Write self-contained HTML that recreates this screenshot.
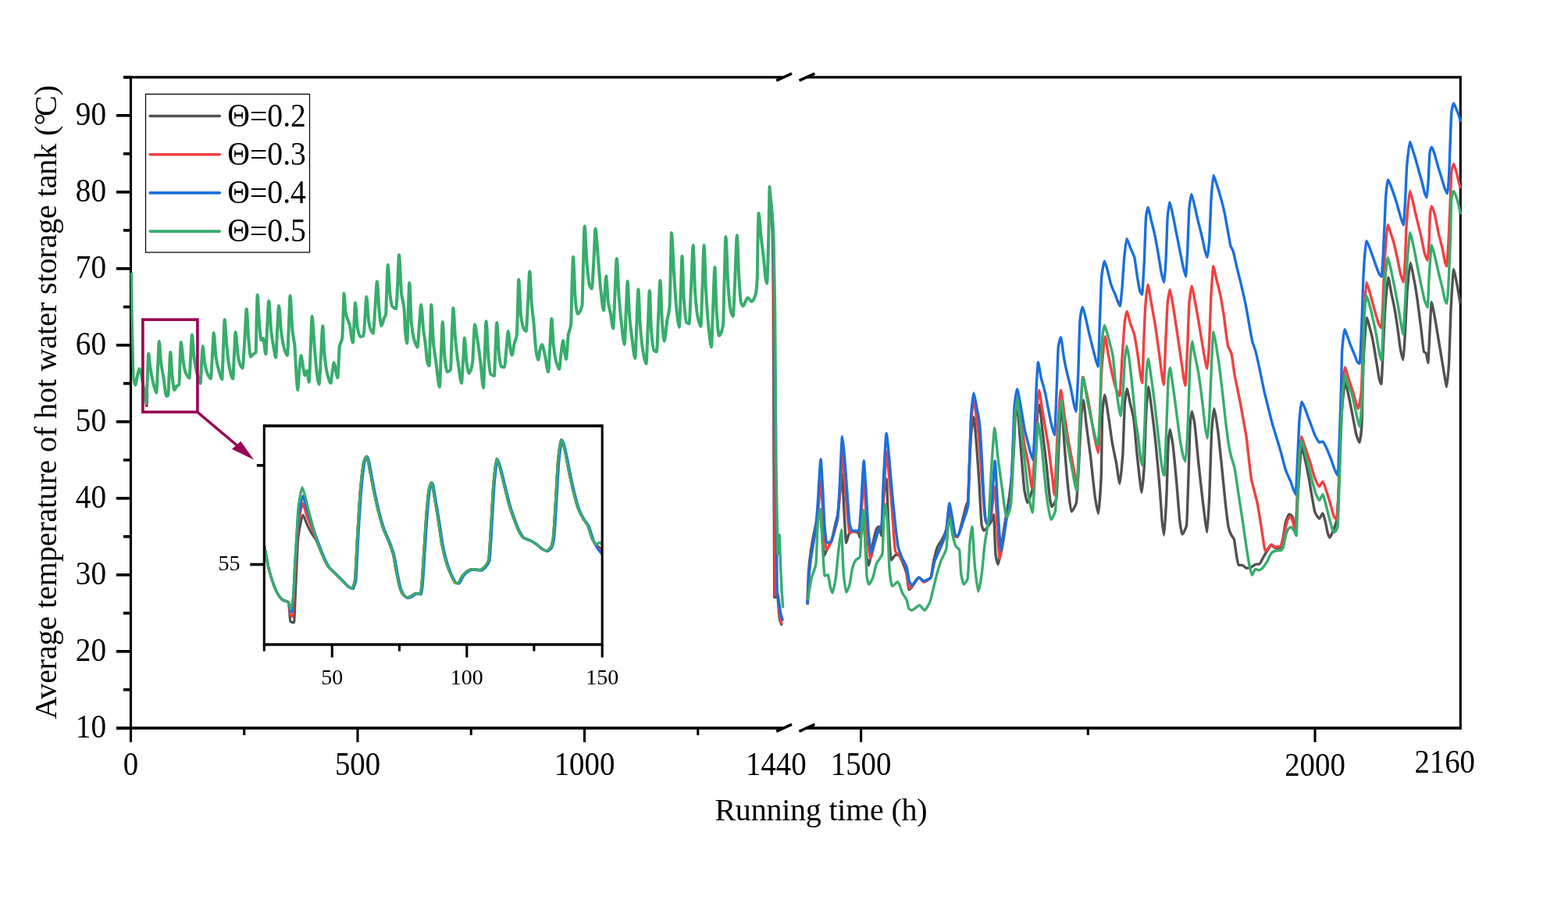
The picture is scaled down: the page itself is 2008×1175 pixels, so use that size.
<!DOCTYPE html>
<html lang="en"><head><meta charset="utf-8"><title>Average temperature of hot water storage tank</title>
<style>html,body{margin:0;padding:0;background:#fff}body{width:2008px;height:1175px;overflow:hidden}svg{display:block}text{font-family:"Liberation Serif","Noto Serif CJK SC",serif;fill:#000}</style></head><body>
<svg width="2008" height="1175" viewBox="0 0 2008 1175">
<rect width="2008" height="1175" fill="#fff"/>
<g stroke="#000" stroke-width="3.1" fill="none" stroke-linecap="butt">
<path d="M167.5 97.35000000000001 V933.8000000000001"/>
<path d="M1870.3 97.35000000000001 V933.8000000000001"/>
<path d="M167.50 931.95 V949.95"/>
<path d="M458.00 931.95 V949.95"/>
<path d="M748.50 931.95 V949.95"/>
<path d="M312.75 931.95 V940.95"/>
<path d="M603.25 931.95 V940.95"/>
<path d="M893.75 931.95 V940.95"/>
<path d="M1102.60 931.95 V949.95"/>
<path d="M1684.00 931.95 V949.95"/>
<path d="M1393.30 931.95 V940.95"/>
</g>
<g stroke="#000" stroke-width="3.7" fill="none" stroke-linecap="butt">
<path d="M158.0 98.95 H1004" stroke-width="3.3"/><path d="M1033.5 98.95 H1870.3" stroke-width="3.3"/>
<path d="M149.0 931.95 H1004"/><path d="M1033.5 931.95 H1870.3"/>
<path d="M994.2 103.15 L1014 94.15" stroke-width="3.4"/>
<path d="M1023.5 103.15 L1043.4 94.15" stroke-width="3.4"/>
<path d="M994.2 936.15 L1014 927.15" stroke-width="3.4"/>
<path d="M1023.5 936.15 L1043.4 927.15" stroke-width="3.4"/>
<path d="M149.0 931.80 H167.5"/>
<path d="M149.0 833.80 H167.5"/>
<path d="M149.0 735.80 H167.5"/>
<path d="M149.0 637.80 H167.5"/>
<path d="M149.0 539.80 H167.5"/>
<path d="M149.0 441.80 H167.5"/>
<path d="M149.0 343.80 H167.5"/>
<path d="M149.0 245.80 H167.5"/>
<path d="M149.0 147.80 H167.5"/>
<path d="M158.0 882.80 H167.5"/>
<path d="M158.0 784.80 H167.5"/>
<path d="M158.0 686.80 H167.5"/>
<path d="M158.0 588.80 H167.5"/>
<path d="M158.0 490.80 H167.5"/>
<path d="M158.0 392.80 H167.5"/>
<path d="M158.0 294.80 H167.5"/>
<path d="M158.0 196.80 H167.5"/>
<path d="M158.0 98.80 H167.5"/>
</g>
<g id="curves">
<polyline points="987.2,262.6 989.3,296.6 990.0,339.1 990.3,400.0 991.0,600.0 991.8,764.4 996.0,764.4 998.2,792.0 1000.8,799.1" fill="none" stroke="#515151" stroke-width="3.4" stroke-linejoin="round" stroke-linecap="round"/>
<polyline points="987.7,262.6 989.9,296.6 990.6,339.1 991.0,400.0 992.0,600.0 992.9,761.5 996.5,762.3 998.9,792.0 1000.8,797.0" fill="none" stroke="#F14040" stroke-width="3.4" stroke-linejoin="round" stroke-linecap="round"/>
<polyline points="988.0,262.6 990.3,296.6 991.1,339.1 992.0,400.0 993.5,600.0 995.2,757.0 997.5,770.0 999.7,785.0 1002.1,793.4" fill="none" stroke="#1A6FDF" stroke-width="3.4" stroke-linejoin="round" stroke-linecap="round"/>
<polyline points="985.5,238.7 988.1,262.6 990.6,296.6 991.5,339.1 992.6,400.0 994.0,600.0 996.0,709.4 998.2,684.8 999.7,727.0 1001.1,755.7 1002.6,776.7" fill="none" stroke="#37AD6B" stroke-width="3.4" stroke-linejoin="round" stroke-linecap="round"/>
<polyline points="186.3,505.0 187.2,519.8 188.3,519.8 188.9,505.0" fill="none" stroke="#515151" stroke-width="2.6" stroke-linejoin="round" stroke-linecap="round"/>
<polyline points="186.3,505.0 187.3,517.5 188.2,517.5 188.9,505.0" fill="none" stroke="#F14040" stroke-width="2.6" stroke-linejoin="round" stroke-linecap="round"/>
<polyline points="186.3,505.0 187.3,516.0 188.2,516.0 188.9,505.0" fill="none" stroke="#1A6FDF" stroke-width="2.6" stroke-linejoin="round" stroke-linecap="round"/>
<path d="M168.5 349.0C168.7 365.2 168.9 393.2 169.0 403.1C169.4 426.2 169.9 440.2 170.2 454.1C170.5 464.1 170.8 482.8 171.1 484.8C171.7 490.0 172.6 493.3 173.3 493.3C174.1 493.3 175.3 483.8 176.2 479.7" fill="none" stroke="#37AD6B" stroke-width="3.3" stroke-linejoin="round" stroke-linecap="butt" />
<path d="M173.3 493.3C174.1 489.2 175.3 483.1 176.2 479.7C176.8 477.0 177.7 472.0 178.4 472.0C179.0 472.0 179.8 474.4 180.4 476.3C181.2 478.6 182.2 487.3 183.0 491.6C183.7 495.9 184.8 500.9 185.5 505.2C186.0 508.1 186.7 515.4 187.2 515.4C187.6 515.4 188.2 496.6 188.6 488.2C189.1 477.8 189.8 452.4 190.3 452.4C190.8 452.4 191.5 464.1 192.0 467.8C192.6 472.1 193.4 476.5 194.0 479.7C195.1 484.9 196.4 491.6 197.4 495.0C198.3 497.9 199.5 502.7 200.3 502.7C200.8 502.7 201.5 480.5 202.0 471.2C202.6 460.9 203.3 437.1 203.9 437.1C204.5 437.1 205.3 457.5 206.0 462.7C207.0 471.2 208.3 476.8 209.4 483.1C210.5 490.0 212.0 506.9 213.1 506.9C213.8 506.9 214.7 506.6 215.3 506.1C215.7 505.7 216.3 487.5 216.7 479.7C217.1 470.9 217.8 450.7 218.2 450.7C218.9 450.7 219.8 473.7 220.4 479.7C221.3 487.5 222.5 499.3 223.3 499.3C224.2 499.3 225.5 494.9 226.4 494.1C227.3 493.4 228.5 493.6 229.4 492.4C229.8 492.1 230.2 469.6 230.5 462.7C230.9 453.4 231.4 438.0 231.8 438.0C232.7 438.0 234.0 458.9 234.9 464.4C235.7 469.0 236.7 474.4 237.4 476.3C239.0 480.0 241.0 483.9 242.6 483.9C243.1 483.9 243.7 462.4 244.3 454.1C244.8 445.9 245.4 428.6 246.0 428.6C246.7 428.6 247.7 451.9 248.5 457.6C249.8 467.0 251.5 475.0 252.8 479.7C253.9 484.0 255.5 490.7 256.7 490.7C257.1 490.7 257.8 470.0 258.2 462.7C258.6 456.1 259.2 443.1 259.6 443.1C260.3 443.1 261.4 460.1 262.1 464.4C263.1 470.0 264.5 475.6 265.5 478.0C266.8 480.9 268.5 484.8 269.8 484.8C270.5 484.8 271.3 464.2 272.0 454.1C272.5 446.4 273.2 426.1 273.7 426.1C274.6 426.1 275.7 451.9 276.6 457.6C277.9 465.8 279.6 472.0 280.9 476.3C281.9 479.7 283.2 485.6 284.3 485.6C284.8 485.6 285.4 457.1 286.0 445.6C286.5 434.2 287.2 409.0 287.7 409.0C288.4 409.0 289.4 432.8 290.2 440.5C291.2 450.9 292.6 464.5 293.6 469.5C295.0 476.2 296.8 484.8 298.2 484.8C298.7 484.8 299.4 463.1 299.9 454.1C300.4 445.1 301.1 424.9 301.6 424.9C302.5 424.9 303.8 448.4 304.7 454.1C305.4 458.9 306.5 464.3 307.2 466.1C308.3 468.4 309.6 471.2 310.6 471.2C311.4 471.2 312.4 448.4 313.2 437.1C314.0 425.9 315.0 395.4 315.7 395.4C316.5 395.4 317.5 425.1 318.3 433.7C319.1 442.3 320.1 456.7 320.9 456.7C321.9 456.7 323.2 454.2 324.3 453.3C325.3 452.4 326.6 452.6 327.7 450.7C327.9 450.3 328.3 420.7 328.5 411.6C328.9 398.8 329.3 377.6 329.7 377.6C330.4 377.6 331.2 403.9 331.9 411.6C332.7 420.6 333.7 435.4 334.5 435.4C335.2 435.4 336.3 432.9 337.0 432.9C338.0 432.9 339.4 453.3 340.4 453.3C340.9 453.3 341.6 429.4 342.1 420.1C342.7 408.9 343.6 385.2 344.2 385.2C345.1 385.2 346.3 415.6 347.2 423.5C348.3 432.3 349.6 440.1 350.6 445.6C351.4 449.8 352.4 457.6 353.2 457.6C353.8 457.6 354.6 430.3 355.2 420.1C355.8 410.7 356.5 391.2 357.1 391.2C358.0 391.2 359.1 416.9 360.0 423.5C361.3 433.3 363.0 443.5 364.3 447.3C365.4 450.7 366.9 455.0 368.0 455.0C368.5 455.0 369.2 431.0 369.7 420.1C370.3 408.1 371.0 378.4 371.6 378.4C372.4 378.4 373.6 415.4 374.5 423.5C375.4 432.1 376.6 434.7 377.5 443.9C378.1 450.1 379.0 473.3 379.6 481.4C380.1 488.2 380.8 499.3 381.3 499.3C381.9 499.3 382.7 480.8 383.3 474.6C384.0 467.8 384.9 455.0 385.5 455.0C386.3 455.0 387.3 465.7 388.1 469.5C388.9 473.2 389.9 480.5 390.6 480.5C391.4 480.5 392.4 474.6 393.2 474.6C394.0 474.6 395.0 489.0 395.7 489.0C396.4 489.0 397.2 458.9 397.8 445.6C398.4 433.6 399.1 404.8 399.7 404.8C400.3 404.8 401.1 421.5 401.7 429.1C402.5 438.8 403.5 456.1 404.3 463.2C405.5 475.0 407.2 492.1 408.5 492.1C409.3 492.1 410.3 466.7 411.1 454.7C411.7 444.2 412.6 417.2 413.3 417.2C413.9 417.2 414.7 444.7 415.3 451.3C416.3 462.2 417.7 472.5 418.7 476.8C420.2 482.9 422.1 490.4 423.5 490.4C424.1 490.4 424.9 480.6 425.5 476.8C426.2 472.7 427.1 464.0 427.7 464.0C428.4 464.0 429.2 470.8 429.8 473.4C430.6 476.7 431.6 483.6 432.3 483.6C433.1 483.6 434.1 446.8 434.9 442.8C435.9 437.4 437.3 438.8 438.3 432.6C438.7 430.4 439.1 412.9 439.5 403.6C439.8 395.7 440.2 375.5 440.5 375.5C441.1 375.5 441.9 397.0 442.6 400.2C444.1 408.3 446.1 409.6 447.7 415.5C448.9 420.5 450.6 438.5 451.9 438.5C452.4 438.5 453.1 420.7 453.6 412.1C454.0 405.3 454.6 387.4 455.0 387.4C455.8 387.4 457.0 416.5 457.9 420.6C458.9 425.6 460.3 430.9 461.3 430.9C462.6 430.9 464.3 430.6 465.5 430.0C466.1 429.7 467.0 411.8 467.6 403.6C468.1 396.7 468.8 379.8 469.3 379.8C470.2 379.8 471.4 406.9 472.3 412.1C473.1 416.5 474.1 420.7 474.9 422.3C475.8 424.2 476.9 426.6 477.8 426.6C478.6 426.6 479.6 405.0 480.3 395.1C481.1 385.2 482.1 360.2 482.9 360.2C483.8 360.2 485.0 394.3 486.0 401.9C486.7 408.2 487.7 417.2 488.5 417.2C489.5 417.2 490.9 409.5 491.9 407.0C492.5 405.5 493.3 405.3 494.0 402.8C494.4 401.1 494.9 379.1 495.3 369.6C495.7 360.0 496.3 338.9 496.7 338.9C497.5 338.9 498.7 371.5 499.6 378.1C500.3 383.9 501.4 390.7 502.1 391.7C503.7 393.7 505.7 395.1 507.2 395.1C507.8 395.1 508.7 372.4 509.3 361.1C509.8 351.7 510.5 326.2 511.0 326.2C511.9 326.2 513.1 366.6 514.0 374.7C515.1 383.6 516.4 385.4 517.5 395.1C518.0 400.0 518.6 420.7 519.1 425.7C519.8 431.8 520.6 439.4 521.2 439.4C521.7 439.4 522.4 407.9 522.9 395.1C523.3 384.8 523.8 361.9 524.3 361.9C525.0 361.9 526.0 404.5 526.8 412.1C527.8 422.4 529.2 430.6 530.2 434.3C531.5 438.8 533.2 444.5 534.5 444.5C535.2 444.5 536.3 424.3 537.0 415.5C537.7 407.9 538.6 390.0 539.2 390.0C540.1 390.0 541.3 413.1 542.1 420.6C542.9 427.2 543.9 433.1 544.7 439.4C545.4 445.7 546.5 460.4 547.2 463.2C547.9 465.6 548.8 468.3 549.5 468.3C549.9 468.3 550.5 441.6 551.0 429.1C551.4 418.1 551.9 390.0 552.3 390.0C553.1 390.0 554.1 429.3 554.9 437.7C555.9 448.8 557.3 455.8 558.3 463.2C559.7 473.2 561.5 495.5 562.9 495.5C563.5 495.5 564.2 466.7 564.8 454.7C565.4 441.7 566.2 412.1 566.8 412.1C567.6 412.1 568.6 449.6 569.4 456.4C570.4 465.4 571.7 476.0 572.8 476.0C574.0 476.0 575.7 475.1 577.0 473.4C577.5 472.7 578.2 440.8 578.7 429.1C579.2 417.4 579.9 394.3 580.4 394.3C581.2 394.3 582.2 424.1 583.0 432.6C584.3 446.6 586.0 459.5 587.2 468.3C588.4 476.1 589.9 490.4 591.0 490.4C591.6 490.4 592.5 469.7 593.2 459.8C593.7 452.2 594.4 432.6 594.9 432.6C595.7 432.6 596.7 457.9 597.5 463.2C598.4 469.5 599.6 477.7 600.5 477.7C601.9 477.7 603.7 472.7 605.1 464.9C605.5 462.6 606.1 444.5 606.5 437.7C606.9 429.9 607.5 415.5 608.0 415.5C608.9 415.5 610.1 426.8 611.1 432.6C612.3 440.5 614.0 453.0 615.3 463.2C616.4 472.1 617.9 496.4 619.1 496.4C619.6 496.4 620.3 467.5 620.8 454.7C621.3 442.0 622.0 411.3 622.5 411.3C623.4 411.3 624.6 448.6 625.5 458.1C626.3 466.1 627.3 477.7 628.1 478.5C629.5 480.1 631.4 481.1 632.9 481.1C633.4 481.1 634.0 456.3 634.5 446.2C635.1 435.9 635.7 413.0 636.3 413.0C637.1 413.0 638.3 447.7 639.1 454.7C639.9 460.9 640.9 468.8 641.7 469.1C643.0 469.7 644.7 470.0 646.0 470.0C646.7 470.0 647.7 453.6 648.5 446.2C649.2 439.8 650.1 424.0 650.7 424.0C651.5 424.0 652.5 440.2 653.3 444.5C654.0 448.4 654.9 454.7 655.7 454.7C656.6 454.7 657.8 443.0 658.7 439.4C659.6 435.7 660.9 435.4 661.8 429.1C662.1 426.7 662.6 405.8 663.0 395.1C663.3 384.4 663.8 357.7 664.2 357.7C665.1 357.7 666.3 398.9 667.2 405.3C668.3 412.5 669.6 418.8 670.6 420.6C671.6 422.3 672.8 424.0 673.7 424.0C674.4 424.0 675.4 398.5 676.1 386.6C676.8 375.6 677.6 347.4 678.3 347.4C679.1 347.4 680.1 381.3 680.9 390.0C681.6 398.7 682.6 404.6 683.4 412.1C684.4 422.2 685.8 445.7 686.8 451.3C687.6 455.4 688.6 460.6 689.4 460.6C690.0 460.6 690.8 450.2 691.4 447.9C692.2 445.0 693.2 441.1 694.0 441.1C695.1 441.1 696.7 449.9 697.9 454.7C699.1 459.9 700.9 476.0 702.1 476.0C702.8 476.0 703.7 453.4 704.3 442.8C705.0 433.0 705.8 407.9 706.4 407.9C707.1 407.9 708.2 436.2 708.9 442.8C710.0 451.4 711.3 459.6 712.3 463.2C713.5 467.2 715.0 472.6 716.1 472.6C716.9 472.6 717.9 456.6 718.6 451.3C719.4 445.9 720.4 436.0 721.2 436.0C721.7 436.0 722.4 446.6 722.9 449.6C723.6 453.5 724.4 459.8 725.1 459.8C725.9 459.8 726.9 433.9 727.7 429.1C728.7 422.9 730.0 423.7 731.1 415.5C731.5 412.2 732.0 381.8 732.4 369.6C732.9 355.9 733.5 328.7 734.0 328.7C734.8 328.7 735.9 373.9 736.7 382.1C737.5 390.9 738.7 401.7 739.6 401.7C741.4 401.7 743.7 398.4 745.5 390.6C745.9 388.9 746.5 353.1 746.9 339.6C747.4 322.6 748.1 289.4 748.6 289.4C749.5 289.4 750.6 326.4 751.5 336.2C752.5 347.6 753.9 362.6 754.9 365.1C755.8 367.2 756.9 369.4 757.8 369.4C758.6 369.4 759.7 344.3 760.5 331.1C761.1 321.1 761.9 292.8 762.5 292.8C763.6 292.8 764.9 319.2 766.0 331.1C767.0 342.9 768.3 363.0 769.4 371.9C770.5 381.7 772.0 397.4 773.1 397.4C773.5 397.4 774.1 379.5 774.5 373.6C775.0 366.3 775.7 353.2 776.2 353.2C776.9 353.2 778.0 379.9 778.7 385.5C779.7 393.0 781.1 397.0 782.1 402.6C783.0 407.5 784.3 420.4 785.2 420.4C785.9 420.4 786.9 387.5 787.6 373.6C788.2 360.7 789.1 331.1 789.8 331.1C790.6 331.1 791.6 364.9 792.3 375.3C793.4 389.2 794.7 403.9 795.7 412.8C796.9 423.0 798.5 440.9 799.7 440.9C800.3 440.9 801.1 411.3 801.7 399.1C802.3 387.0 803.1 360.0 803.7 360.0C804.4 360.0 805.3 394.2 806.0 402.6C807.0 415.4 808.3 425.4 809.4 433.2C810.5 442.1 812.1 458.7 813.3 458.7C813.9 458.7 814.7 429.4 815.3 416.2C815.9 402.9 816.7 370.2 817.4 370.2C818.0 370.2 818.9 403.9 819.6 412.8C820.6 426.5 822.0 440.8 823.0 446.8C824.4 455.0 826.2 465.5 827.6 465.5C828.2 465.5 829.1 430.8 829.8 416.2C830.4 402.7 831.2 371.9 831.8 371.9C832.5 371.9 833.4 415.2 834.0 423.0C835.1 435.0 836.4 447.6 837.5 448.5C838.5 449.5 839.8 450.2 840.9 450.2C841.6 450.2 842.6 414.3 843.4 399.1C844.0 387.0 844.8 359.1 845.5 359.1C846.2 359.1 847.2 403.3 848.0 412.8C848.8 422.9 849.9 436.6 850.7 436.6C851.8 436.6 853.3 416.4 854.5 409.4C855.4 403.6 856.6 402.3 857.5 392.3C857.9 388.5 858.4 362.2 858.7 348.1C859.1 334.0 859.6 297.9 859.9 297.9C860.8 297.9 862.1 334.2 863.0 348.1C864.0 363.5 865.4 386.5 866.4 395.7C867.4 405.1 868.8 418.7 869.8 418.7C870.4 418.7 871.2 388.6 871.8 373.6C872.3 361.2 873.0 327.7 873.5 327.7C874.2 327.7 875.1 373.1 875.7 382.1C876.8 396.1 878.1 411.8 879.1 412.8C880.2 413.7 881.5 414.5 882.5 414.5C883.3 414.5 884.3 380.2 885.1 365.1C885.9 350.1 886.9 314.0 887.7 314.0C888.4 314.0 889.4 365.1 890.2 375.3C891.2 389.0 892.6 401.1 893.6 406.0C894.7 411.3 896.2 417.9 897.4 417.9C898.0 417.9 898.9 381.3 899.6 365.1C900.2 350.1 901.0 314.0 901.6 314.0C902.3 314.0 903.2 356.4 903.8 368.5C904.9 387.1 906.2 406.2 907.2 416.2C908.4 427.2 909.9 444.3 911.0 444.3C911.6 444.3 912.5 405.9 913.2 390.6C913.9 375.4 914.7 342.1 915.4 342.1C916.0 342.1 916.8 386.5 917.5 395.7C918.5 411.1 919.8 429.8 920.9 429.8C922.4 429.8 924.4 425.0 926.0 416.2C926.5 413.2 927.1 373.5 927.7 356.6C928.2 339.7 928.9 303.0 929.4 303.0C930.3 303.0 931.5 352.3 932.4 365.1C933.3 377.1 934.5 391.9 935.3 395.7C936.3 400.3 937.7 405.1 938.7 405.1C939.5 405.1 940.5 372.1 941.3 356.6C942.0 341.1 943.1 301.3 943.8 301.3C944.6 301.3 945.6 344.4 946.4 356.2C947.1 368.0 948.2 384.2 948.9 386.8C949.7 389.4 950.7 391.9 951.5 391.9C953.3 391.9 955.7 380.9 957.5 380.9C959.0 380.9 961.0 386.0 962.5 386.0C964.1 386.0 966.1 381.9 967.7 376.6C968.3 374.5 969.1 367.8 969.7 356.2C970.0 351.3 970.3 315.8 970.5 305.1C970.9 292.3 971.3 272.8 971.6 272.8C972.4 272.8 973.6 293.7 974.5 301.7C975.5 311.1 976.9 321.2 977.9 330.6C978.6 337.7 979.7 351.9 980.4 356.2C980.9 359.0 981.6 363.0 982.1 363.0C982.6 363.0 983.3 338.6 983.8 322.1C984.3 305.7 985.0 263.7 985.5 238.7" fill="none" stroke="#37AD6B" stroke-width="4.0" stroke-linejoin="round" stroke-linecap="butt" />
<path d="M1033.8 773.5C1034.2 765.3 1035.1 737.0 1035.4 732.5C1036.0 724.2 1037.7 710.1 1038.3 706.0C1039.2 699.6 1041.8 684.8 1042.7 680.5C1043.5 676.7 1045.9 666.4 1046.7 663.9C1047.5 661.4 1049.9 654.0 1050.7 654.0C1051.1 654.0 1052.4 678.4 1052.9 683.8C1053.4 689.9 1054.8 711.5 1055.3 711.5C1055.9 711.5 1057.6 706.1 1058.2 704.9C1059.5 702.1 1063.5 696.2 1064.8 692.7C1065.7 690.3 1068.4 676.5 1069.3 672.8C1069.9 670.0 1071.9 663.2 1072.6 659.5C1073.2 655.8 1075.2 634.4 1075.9 628.5C1076.4 623.9 1078.0 606.4 1078.5 606.4C1079.0 606.4 1080.5 646.7 1081.0 655.1C1081.5 664.2 1083.1 694.9 1083.6 694.9C1084.3 694.9 1086.3 684.7 1087.0 683.8C1087.8 682.7 1090.5 680.5 1091.4 680.5C1092.9 680.5 1097.6 681.1 1099.1 681.6C1099.6 681.8 1100.9 688.3 1101.3 688.3C1101.8 688.3 1103.1 678.7 1103.6 677.2C1104.1 675.4 1105.7 670.6 1106.2 670.6C1106.8 670.6 1108.5 704.2 1109.1 708.2C1109.8 712.8 1111.7 723.7 1112.4 723.7C1113.5 723.7 1116.8 699.9 1117.9 694.9C1118.8 690.9 1121.5 678.6 1122.4 677.2C1123.0 676.2 1125.0 673.9 1125.7 673.9C1126.4 673.9 1128.3 686.0 1129.0 686.0C1129.5 686.0 1130.8 644.3 1131.2 639.6C1132.0 631.1 1134.4 613.0 1135.2 613.0C1135.7 613.0 1137.3 663.8 1137.9 672.8C1138.5 684.0 1140.5 717.0 1141.2 717.0C1142.3 717.0 1145.6 710.4 1146.7 710.4C1147.6 710.4 1150.2 710.4 1151.1 710.4C1152.0 710.4 1154.7 717.2 1155.6 719.2C1156.7 721.8 1160.0 730.1 1161.1 734.7C1161.7 737.1 1163.4 754.6 1164.0 754.6C1164.7 754.6 1167.0 752.1 1167.7 751.3C1169.5 749.5 1174.8 739.2 1176.6 739.2C1177.9 739.2 1181.9 744.7 1183.2 744.7C1185.0 744.7 1190.3 741.4 1192.1 739.2C1192.7 738.3 1194.7 722.3 1195.4 719.2C1196.5 714.2 1199.8 701.8 1200.9 699.3C1202.0 696.9 1205.4 692.6 1206.5 690.5C1207.6 688.4 1210.9 681.1 1212.0 677.2C1212.7 674.6 1215.0 655.1 1215.8 655.1C1216.5 655.1 1218.9 665.1 1219.7 668.4C1220.4 671.1 1222.4 685.6 1223.0 686.0C1223.7 686.5 1225.7 687.2 1226.4 687.2C1227.5 687.2 1230.8 672.2 1231.9 668.4C1233.2 663.7 1237.2 645.6 1238.5 644.0C1238.7 643.8 1239.1 643.6 1239.2 643.4C1239.8 642.7 1241.3 597.0 1241.8 587.2C1242.2 580.4 1243.2 560.3 1243.6 556.6C1244.3 549.7 1246.2 533.6 1246.9 533.6C1248.2 533.6 1252.0 589.9 1253.3 607.6C1254.1 618.3 1256.4 667.8 1257.1 671.5C1257.6 674.0 1259.2 679.1 1259.7 679.1C1261.5 679.1 1266.8 671.9 1268.6 668.9C1269.4 667.6 1271.7 658.7 1272.4 658.7C1273.0 658.7 1274.5 706.2 1275.0 709.8C1275.6 714.1 1277.4 722.5 1278.1 722.5C1279.7 722.5 1284.8 681.6 1286.5 671.5C1287.8 663.8 1291.6 642.9 1292.9 633.2C1293.9 625.5 1297.0 596.3 1298.0 582.1C1298.5 575.1 1300.0 533.3 1300.5 531.1C1301.0 528.8 1302.6 524.7 1303.1 524.7C1303.8 524.7 1306.1 560.5 1306.9 569.4C1307.9 581.2 1311.0 622.1 1312.0 628.1C1312.8 632.5 1315.1 643.4 1315.8 643.4C1317.1 643.4 1320.9 631.6 1322.2 625.5C1323.0 621.9 1325.3 593.4 1326.0 582.1C1326.6 574.6 1328.1 535.2 1328.6 531.1C1329.1 527.0 1330.7 518.3 1331.2 518.3C1331.9 518.3 1334.2 544.9 1335.0 551.5C1336.0 560.3 1339.1 585.5 1340.1 594.9C1340.9 601.9 1343.2 627.5 1343.9 633.2C1344.4 636.9 1346.0 648.5 1346.5 648.5C1347.8 648.5 1351.6 642.6 1352.9 638.3C1353.4 636.5 1354.9 592.8 1355.4 582.1C1355.9 571.4 1357.5 533.8 1358.0 531.1C1358.4 528.9 1359.6 524.7 1360.0 524.7C1360.6 524.7 1362.5 561.4 1363.1 569.4C1364.1 582.6 1367.2 619.3 1368.2 628.1C1368.9 634.7 1371.2 654.9 1372.0 654.9C1373.3 654.9 1377.1 647.8 1378.4 643.4C1379.2 640.7 1381.5 595.8 1382.2 582.1C1382.7 573.0 1384.3 536.6 1384.8 531.1C1385.3 525.5 1386.8 511.9 1387.3 511.9C1388.1 511.9 1390.4 537.8 1391.2 543.8C1392.2 551.9 1395.2 573.9 1396.3 582.1C1397.5 592.4 1401.4 630.3 1402.6 638.3C1403.4 643.1 1405.7 657.4 1406.5 657.4C1407.2 657.4 1409.5 626.0 1410.3 607.6C1410.6 601.5 1411.3 535.2 1411.6 531.1C1412.2 521.1 1414.0 505.5 1414.6 505.5C1415.6 505.5 1418.3 525.4 1419.2 531.1C1420.3 537.4 1423.3 560.8 1424.3 566.8C1425.4 572.8 1428.4 586.8 1429.5 592.3C1430.4 597.3 1433.1 619.1 1434.0 619.1C1434.8 619.1 1437.1 591.8 1437.9 580.4C1438.4 572.8 1439.9 522.5 1440.4 516.6C1440.9 510.7 1442.5 497.4 1443.0 497.4C1443.7 497.4 1446.0 510.7 1446.8 514.0C1447.8 518.5 1450.9 530.4 1451.9 537.0C1452.7 542.0 1455.0 570.2 1455.7 577.9C1456.5 585.5 1458.8 607.8 1459.6 613.6C1460.1 617.5 1461.6 630.2 1462.1 630.2C1462.7 630.2 1464.6 607.6 1465.2 598.3C1465.7 590.5 1467.2 538.0 1467.7 529.4C1468.3 519.8 1470.0 494.9 1470.5 494.9C1471.4 494.9 1474.0 517.7 1474.9 524.2C1475.9 531.9 1479.0 557.9 1480.0 567.6C1481.0 577.5 1484.1 611.2 1485.1 623.8C1485.8 632.0 1487.8 663.9 1488.4 669.8C1488.9 673.8 1490.3 685.1 1490.7 685.1C1491.4 685.1 1493.4 646.0 1494.0 631.5C1494.4 622.6 1495.7 572.8 1496.1 567.6C1496.5 561.9 1497.9 549.8 1498.4 549.8C1499.0 549.8 1501.0 563.1 1501.7 567.6C1502.7 574.6 1505.8 607.5 1506.8 618.7C1507.6 627.1 1509.9 658.4 1510.6 664.7C1511.2 669.6 1513.1 683.8 1513.7 683.8C1514.9 683.8 1518.4 677.1 1519.6 672.3C1520.1 670.2 1521.6 620.5 1522.1 605.9C1522.5 594.3 1523.8 546.7 1524.2 542.1C1524.6 537.0 1526.0 526.8 1526.5 526.8C1527.1 526.8 1529.1 538.0 1529.8 542.1C1530.8 548.4 1533.9 583.5 1534.9 593.2C1535.9 602.9 1539.0 630.5 1540.0 639.1C1540.8 645.6 1543.1 664.8 1543.8 669.8C1544.2 672.4 1545.5 681.3 1545.9 681.3C1546.5 681.3 1548.3 644.5 1548.9 631.5C1549.4 620.6 1551.0 562.5 1551.5 554.9C1552.1 545.0 1554.1 523.0 1554.8 523.0C1555.7 523.0 1558.3 541.3 1559.1 547.2C1560.2 554.2 1563.2 583.5 1564.2 593.2C1565.3 602.9 1568.3 635.2 1569.3 644.2C1570.1 651.0 1572.4 671.8 1573.2 674.9C1573.9 677.9 1576.2 683.6 1577.0 685.1C1577.7 686.4 1579.7 688.5 1580.3 690.2C1580.9 691.7 1582.8 707.1 1583.4 710.6C1583.9 713.5 1585.4 723.4 1585.9 723.4C1587.0 723.4 1590.0 723.4 1591.0 723.4C1592.1 723.4 1595.1 727.2 1596.2 727.2C1597.4 727.2 1601.3 726.3 1602.5 725.9C1603.8 725.5 1607.6 722.1 1608.9 722.1C1609.7 722.1 1612.0 722.1 1612.8 722.1C1613.8 722.1 1616.8 714.9 1617.9 713.2C1618.6 711.9 1620.9 707.9 1621.7 706.8C1623.0 704.8 1627.0 698.0 1628.3 698.0C1629.3 698.0 1632.2 701.3 1633.2 701.3C1634.5 701.3 1638.5 701.3 1639.8 701.3C1640.5 701.3 1642.5 691.2 1643.2 688.0C1643.8 684.8 1645.8 670.3 1646.5 668.1C1647.4 665.1 1650.0 658.1 1650.9 658.1C1651.8 658.1 1654.4 660.3 1655.3 661.5C1656.0 662.4 1658.0 679.2 1658.6 679.2C1659.3 679.2 1661.3 643.7 1662.0 634.9C1662.9 622.0 1665.9 570.7 1666.8 570.7C1667.6 570.7 1670.0 582.8 1670.8 586.2C1671.9 590.9 1675.2 606.8 1676.3 612.8C1677.2 617.5 1679.9 634.5 1680.8 639.3C1681.4 642.9 1683.4 654.4 1684.1 655.9C1685.2 658.5 1688.5 663.7 1689.6 663.7C1690.5 663.7 1693.2 657.0 1694.0 657.0C1694.7 657.0 1696.7 665.5 1697.4 668.1C1698.0 670.7 1700.0 681.8 1700.7 683.6C1701.1 684.8 1702.5 688.0 1702.9 688.0C1703.8 688.0 1706.4 681.3 1707.3 679.2C1708.2 677.0 1710.9 670.6 1711.8 665.9C1712.2 663.5 1713.5 643.3 1714.0 634.9C1714.4 626.4 1715.7 578.2 1716.2 568.5C1716.8 554.0 1718.8 520.3 1719.5 513.2C1720.1 506.9 1721.9 489.7 1722.5 489.7C1723.2 489.7 1725.4 499.2 1726.1 502.1C1727.5 507.4 1731.4 528.7 1732.8 535.3C1733.7 539.7 1736.3 554.6 1737.2 557.5C1738.0 559.8 1740.2 566.3 1741.0 566.3C1741.5 566.3 1743.3 553.4 1743.8 546.4C1744.2 541.4 1745.5 476.1 1745.9 467.2C1746.7 448.3 1749.3 406.4 1750.2 406.4C1750.8 406.4 1752.7 414.4 1753.4 416.7C1754.3 420.0 1757.1 430.9 1758.0 435.4C1759.0 439.9 1761.8 457.9 1762.7 463.5C1763.5 468.0 1765.7 483.5 1766.5 485.9C1767.0 487.5 1768.4 491.6 1768.9 491.6C1769.4 491.6 1770.7 457.3 1771.2 448.5C1771.7 437.5 1773.4 400.0 1774.0 392.3C1774.7 382.2 1777.0 354.9 1777.7 354.9C1778.5 354.9 1780.7 369.9 1781.5 373.6C1782.4 378.2 1785.2 390.9 1786.1 396.1C1786.9 400.2 1789.1 415.2 1789.9 420.4C1790.6 425.6 1792.9 444.9 1793.6 448.5C1794.3 451.8 1796.3 460.7 1797.0 460.7C1797.4 460.7 1798.8 437.0 1799.2 429.8C1799.8 420.7 1801.5 380.8 1802.0 373.6C1802.9 363.1 1805.3 336.2 1806.2 336.2C1806.8 336.2 1808.9 347.8 1809.5 351.1C1810.5 355.8 1813.3 371.3 1814.2 377.4C1815.3 384.6 1818.7 411.6 1819.8 420.4C1820.6 426.3 1822.8 449.5 1823.6 450.4C1824.1 451.0 1825.8 451.6 1826.4 452.2C1826.9 452.8 1828.3 464.4 1828.8 464.4C1829.2 464.4 1830.3 436.3 1830.7 429.8C1831.2 420.6 1832.8 386.7 1833.3 386.7C1834.2 386.7 1836.8 402.7 1837.6 407.3C1838.5 412.3 1841.4 429.8 1842.3 435.4C1843.2 441.0 1846.0 457.9 1847.0 463.5C1847.7 468.0 1850.0 481.9 1850.7 485.9C1851.1 488.0 1852.2 495.3 1852.6 495.3C1853.2 495.3 1854.8 475.4 1855.4 467.2C1856.0 459.1 1857.6 402.8 1858.2 392.3C1858.9 379.8 1860.9 344.6 1861.6 344.6C1862.2 344.6 1864.1 355.6 1864.8 358.6C1865.3 361.4 1867.0 370.4 1867.6 373.6C1868.1 376.4 1869.5 385.6 1870.0 388.6" fill="none" stroke="#515151" stroke-width="3.4" stroke-linejoin="round" stroke-linecap="butt" />
<path d="M1034.3 773.5C1034.6 765.7 1035.7 739.1 1036.1 734.7C1036.7 726.6 1038.7 712.8 1039.4 708.2C1040.3 702.1 1042.9 687.5 1043.8 681.6C1044.6 676.1 1047.2 658.3 1048.0 650.6C1048.6 645.0 1050.5 615.2 1051.1 615.2C1051.6 615.2 1052.9 639.7 1053.3 646.2C1053.8 653.4 1055.3 678.6 1055.8 683.8C1056.2 689.0 1057.7 703.8 1058.2 703.8C1059.3 703.8 1062.6 696.3 1063.7 693.8C1064.8 691.3 1068.2 681.0 1069.3 677.2C1069.9 674.9 1071.9 667.8 1072.6 663.9C1073.3 659.8 1075.4 634.1 1076.1 624.1C1076.6 617.2 1078.1 579.8 1078.5 579.8C1079.0 579.8 1080.5 600.8 1081.0 606.4C1081.7 614.0 1083.6 639.0 1084.3 646.2C1085.0 654.0 1087.1 681.6 1087.8 681.6C1088.6 681.6 1090.7 680.7 1091.4 680.5C1093.2 680.2 1098.5 679.9 1100.2 679.4C1100.8 679.2 1102.5 661.0 1103.1 655.1C1103.7 648.6 1105.6 613.0 1106.2 613.0C1106.7 613.0 1108.2 643.3 1108.7 650.6C1109.3 660.6 1111.3 693.9 1112.0 699.3C1112.5 703.7 1114.1 714.8 1114.6 714.8C1115.7 714.8 1119.0 698.6 1120.2 694.9C1121.3 691.1 1124.6 679.2 1125.7 677.2C1126.4 676.0 1128.3 674.4 1129.0 672.8C1129.6 671.2 1131.5 638.0 1132.1 628.5C1132.7 619.0 1134.6 577.6 1135.2 577.6C1135.7 577.6 1137.2 594.9 1137.6 599.8C1138.5 608.1 1141.0 635.7 1141.8 646.2C1142.4 652.9 1144.0 677.6 1144.5 683.8C1144.9 689.0 1146.3 705.1 1146.7 706.0C1147.4 707.2 1149.4 708.5 1150.0 709.3C1151.1 710.6 1154.5 715.2 1155.6 717.0C1156.7 718.9 1160.0 724.4 1161.1 728.1C1161.8 730.3 1163.7 752.4 1164.4 752.4C1165.1 752.4 1167.1 750.8 1167.7 750.2C1169.5 748.7 1174.8 739.2 1176.6 739.2C1177.9 739.2 1181.9 744.7 1183.2 744.7C1185.0 744.7 1190.3 741.3 1192.1 739.2C1193.0 738.1 1195.6 722.0 1196.5 719.2C1197.6 715.7 1200.9 708.6 1202.0 706.0C1203.4 702.8 1207.3 694.5 1208.7 690.5C1209.3 688.5 1211.3 680.6 1212.0 677.2C1212.7 673.4 1215.0 650.6 1215.8 650.6C1216.5 650.6 1218.9 662.4 1219.7 666.1C1220.4 669.2 1222.4 684.1 1223.0 684.9C1223.7 685.7 1225.7 687.2 1226.4 687.2C1227.7 687.2 1231.7 672.4 1233.0 668.4C1234.3 664.3 1238.3 655.3 1239.7 646.2C1240.1 643.3 1241.4 599.0 1241.8 587.2C1242.2 577.5 1243.2 543.2 1243.6 538.7C1244.3 530.3 1246.2 513.2 1246.9 513.2C1247.7 513.2 1250.0 530.9 1250.7 536.2C1251.2 539.7 1252.8 551.6 1253.3 556.6C1254.1 564.1 1256.4 597.4 1257.1 607.6C1257.9 617.9 1260.2 653.7 1261.0 658.7C1261.5 662.0 1263.0 670.2 1263.5 670.2C1264.5 670.2 1267.6 666.1 1268.6 663.8C1269.4 662.1 1271.7 638.2 1272.4 633.2C1272.8 630.8 1273.9 623.0 1274.2 623.0C1274.9 623.0 1276.9 674.7 1277.5 684.2C1278.1 691.6 1279.6 714.9 1280.1 714.9C1281.9 714.9 1287.3 673.3 1289.0 663.8C1290.1 658.4 1293.1 647.0 1294.1 638.3C1294.7 633.9 1296.2 597.9 1296.7 587.2C1297.2 576.5 1298.7 536.6 1299.2 531.1C1299.9 523.9 1301.9 508.1 1302.6 508.1C1303.4 508.1 1306.0 530.5 1306.9 536.2C1307.9 542.8 1311.0 563.6 1312.0 569.4C1313.0 575.1 1316.1 589.0 1317.1 594.9C1318.0 600.1 1320.8 625.5 1321.7 625.5C1322.3 625.5 1324.2 592.4 1324.8 582.1C1325.3 573.6 1326.8 538.1 1327.3 531.1C1327.9 522.6 1329.8 499.1 1330.4 499.1C1331.3 499.1 1334.1 520.5 1335.0 526.0C1336.5 535.0 1341.1 561.3 1342.7 571.9C1343.7 579.0 1346.7 604.6 1347.8 612.8C1348.3 616.8 1349.8 633.2 1350.3 633.2C1351.1 633.2 1353.4 568.8 1354.1 556.6C1355.0 542.7 1357.6 499.1 1358.5 499.1C1359.4 499.1 1362.2 524.9 1363.1 531.1C1364.1 537.9 1367.2 558.3 1368.2 564.2C1369.5 571.7 1373.3 590.9 1374.6 597.4C1375.6 602.6 1378.6 623.0 1379.7 623.0C1380.2 623.0 1381.7 567.3 1382.2 556.6C1383.1 538.4 1385.7 482.6 1386.6 482.6C1387.4 482.6 1389.9 495.5 1390.7 499.2C1391.6 503.1 1394.3 516.5 1395.2 521.3C1396.3 527.3 1399.6 548.9 1400.7 554.5C1401.8 560.3 1405.3 579.6 1406.5 579.6C1407.3 579.6 1409.8 489.3 1410.6 477.0C1411.5 463.9 1414.2 430.6 1415.1 430.6C1416.0 430.6 1418.6 450.3 1419.5 454.9C1420.4 459.5 1423.0 473.1 1423.9 477.0C1424.8 481.0 1427.5 492.2 1428.3 494.7C1429.5 497.9 1432.8 506.9 1433.9 506.9C1434.5 506.9 1436.5 464.5 1437.2 454.9C1437.9 445.3 1439.9 415.1 1440.5 410.6C1441.0 407.1 1442.6 398.5 1443.2 398.5C1444.0 398.5 1446.4 410.3 1447.2 412.9C1448.3 416.4 1451.6 424.1 1452.7 428.4C1453.6 431.8 1456.2 449.4 1457.1 454.9C1458.2 461.8 1461.5 490.3 1462.7 490.3C1463.1 490.3 1464.4 442.8 1464.9 432.8C1465.3 422.8 1466.6 393.9 1467.1 388.5C1467.6 381.5 1469.4 364.2 1470.0 364.2C1470.7 364.2 1473.0 380.0 1473.7 384.1C1474.8 390.1 1478.1 408.1 1479.2 415.1C1480.3 422.0 1483.7 447.2 1484.8 454.9C1485.9 462.6 1489.2 492.5 1490.3 492.5C1490.8 492.5 1492.4 444.0 1493.0 432.8C1493.4 423.4 1494.7 392.8 1495.2 388.5C1495.8 383.0 1497.5 370.8 1498.0 370.8C1498.7 370.8 1500.7 382.8 1501.4 386.3C1502.5 392.2 1505.8 414.4 1506.9 421.7C1508.0 429.0 1511.3 452.1 1512.4 459.3C1513.5 466.5 1516.9 493.6 1518.0 493.6C1518.5 493.6 1520.1 455.0 1520.7 443.4C1521.1 434.0 1522.5 392.9 1522.9 388.1C1523.6 380.8 1525.6 366.0 1526.2 366.0C1526.9 366.0 1528.9 378.1 1529.5 381.5C1530.4 385.9 1533.1 400.7 1534.0 405.8C1535.1 412.1 1538.4 432.8 1539.5 439.0C1540.8 446.1 1544.6 471.9 1545.9 471.9C1546.4 471.9 1547.9 451.2 1548.3 443.4C1548.9 435.1 1550.5 386.0 1551.0 377.0C1551.6 367.3 1553.3 340.5 1553.9 340.5C1554.5 340.5 1556.5 352.1 1557.2 354.9C1558.3 359.5 1561.6 371.7 1562.7 377.0C1563.6 381.3 1566.3 397.8 1567.2 403.6C1568.3 410.8 1571.6 440.1 1572.7 443.4C1573.4 445.4 1575.3 448.5 1576.0 450.1C1576.2 450.5 1576.8 452.1 1577.0 452.8C1577.8 455.5 1580.1 473.8 1580.8 478.3C1582.4 487.2 1587.0 508.5 1588.5 516.6C1590.0 524.7 1594.6 549.6 1596.2 560.0C1597.4 568.7 1601.3 607.0 1602.5 613.6C1603.0 616.2 1604.6 621.8 1605.1 623.8C1606.1 627.9 1609.2 639.3 1610.2 644.2C1611.2 649.1 1614.3 668.7 1615.3 674.9C1616.3 681.0 1619.4 705.5 1620.4 705.5C1621.2 705.5 1623.6 702.1 1624.3 701.3C1625.1 700.4 1627.5 696.9 1628.3 696.9C1629.3 696.9 1632.2 700.2 1633.2 700.2C1634.5 700.2 1638.5 699.5 1639.8 699.1C1640.5 698.9 1642.5 692.5 1643.2 690.2C1643.8 688.0 1645.8 677.3 1646.5 674.7C1647.1 672.1 1649.1 664.4 1649.8 663.7C1650.5 662.9 1652.4 661.5 1653.1 661.5C1653.8 661.5 1655.8 668.4 1656.4 670.3C1657.0 672.0 1658.7 679.2 1659.3 679.2C1659.8 679.2 1661.4 621.7 1662.0 612.8C1662.8 597.8 1665.5 558.6 1666.4 558.6C1667.3 558.6 1669.9 568.2 1670.8 570.7C1672.1 574.5 1676.1 586.4 1677.5 590.6C1678.8 594.8 1682.8 609.7 1684.1 612.8C1685.2 615.3 1688.5 622.7 1689.6 622.7C1690.5 622.7 1693.2 616.1 1694.0 616.1C1694.9 616.1 1697.6 625.7 1698.5 628.3C1699.6 631.5 1702.9 642.3 1704.0 646.0C1704.9 648.9 1707.5 660.1 1708.4 661.5C1709.1 662.5 1711.1 664.8 1711.8 664.8C1712.2 664.8 1713.5 643.1 1714.0 634.9C1714.4 626.6 1715.7 581.8 1716.2 568.5C1716.6 555.3 1717.9 508.0 1718.4 502.1C1719.2 491.3 1721.7 470.0 1722.5 470.0C1723.2 470.0 1725.5 479.9 1726.2 482.2C1727.5 486.3 1731.5 498.1 1732.8 502.1C1734.1 506.2 1738.1 523.1 1739.4 523.1C1740.2 523.1 1742.6 508.2 1743.4 500.0C1743.9 495.1 1745.4 440.8 1745.9 429.8C1746.6 412.7 1748.9 361.4 1749.6 361.4C1750.4 361.4 1752.6 369.4 1753.4 371.7C1754.3 374.6 1757.1 385.2 1758.0 388.6C1759.0 392.0 1761.8 402.4 1762.7 405.4C1763.5 407.9 1765.7 415.5 1766.5 416.7C1767.0 417.5 1768.4 419.5 1768.9 419.5C1769.3 419.5 1770.4 399.2 1770.8 392.3C1771.2 384.1 1772.6 343.6 1773.0 336.2C1773.8 322.5 1776.3 287.5 1777.1 287.5C1777.8 287.5 1779.8 294.9 1780.5 296.9C1781.4 299.6 1784.3 308.4 1785.2 311.8C1786.1 315.3 1788.9 328.0 1789.9 332.4C1790.6 335.9 1792.9 348.5 1793.6 351.1C1794.4 353.8 1796.6 361.4 1797.4 361.4C1797.7 361.4 1798.9 342.7 1799.2 336.2C1799.6 329.6 1800.7 295.1 1801.1 289.4C1802.0 275.9 1804.6 244.5 1805.5 244.5C1806.1 244.5 1807.9 252.4 1808.5 254.7C1809.4 257.9 1811.9 269.8 1812.8 273.4C1814.2 279.4 1818.4 296.2 1819.8 302.5C1820.8 306.6 1823.6 322.1 1824.5 324.9C1825.3 327.2 1827.5 333.4 1828.2 333.4C1828.6 333.4 1829.8 314.9 1830.1 308.1C1830.4 303.1 1831.2 273.6 1831.5 271.7C1831.9 268.9 1833.1 264.0 1833.5 264.0C1834.3 264.0 1836.7 272.3 1837.5 275.1C1838.4 278.5 1841.3 294.5 1842.3 298.7C1843.2 302.8 1846.0 313.3 1847.0 317.4C1847.7 320.8 1850.0 333.8 1850.7 336.2C1851.1 337.4 1852.2 340.9 1852.6 340.9C1853.1 340.9 1854.5 316.4 1855.0 308.1C1855.4 301.3 1856.6 272.6 1857.0 263.2C1857.4 255.1 1858.4 223.0 1858.7 220.6C1859.3 216.5 1861.0 209.6 1861.6 209.6C1862.2 209.6 1864.1 216.8 1864.7 218.9C1865.4 221.3 1867.4 229.9 1868.1 232.6C1868.5 234.3 1869.9 239.4 1870.3 241.1" fill="none" stroke="#F14040" stroke-width="3.4" stroke-linejoin="round" stroke-linecap="butt" />
<path d="M1034.3 773.5C1034.6 765.7 1035.7 739.1 1036.1 734.7C1036.7 726.6 1038.7 712.8 1039.4 708.2C1040.3 702.1 1042.9 688.5 1043.8 681.6C1044.5 676.5 1046.5 654.4 1047.1 646.2C1047.9 636.4 1050.3 587.6 1051.1 587.6C1051.6 587.6 1053.2 619.2 1053.8 628.5C1054.2 636.2 1055.5 667.5 1056.0 672.8C1056.5 679.1 1058.1 694.9 1058.6 694.9C1059.9 694.9 1063.6 693.5 1064.8 692.7C1065.7 692.1 1068.4 680.5 1069.3 677.2C1069.9 674.7 1071.9 668.2 1072.6 663.9C1073.2 660.2 1074.9 627.5 1075.5 617.5C1076.1 606.6 1077.9 558.8 1078.5 558.8C1079.1 558.8 1080.9 578.2 1081.4 584.3C1082.1 591.3 1084.1 619.9 1084.8 628.5C1085.4 637.1 1087.4 667.6 1088.1 670.6C1088.7 673.5 1090.7 679.4 1091.4 679.4C1093.2 679.4 1098.5 679.4 1100.2 679.4C1100.7 679.4 1102.0 657.0 1102.5 650.6C1103.2 639.9 1105.5 589.8 1106.2 589.8C1106.8 589.8 1108.5 620.0 1109.1 628.5C1109.8 638.4 1111.7 677.1 1112.4 683.8C1113.1 690.6 1115.1 708.2 1115.7 708.2C1116.8 708.2 1120.2 693.9 1121.3 690.5C1122.1 687.7 1124.8 678.8 1125.7 677.2C1126.4 676.0 1128.3 674.6 1129.0 672.8C1129.5 671.6 1130.8 626.2 1131.2 617.5C1132.0 601.7 1134.4 554.4 1135.2 554.4C1135.7 554.4 1137.3 572.4 1137.9 577.6C1138.7 586.3 1141.4 619.1 1142.3 628.5C1143.2 638.0 1145.8 664.9 1146.7 672.8C1147.4 678.6 1149.4 696.5 1150.0 699.3C1151.1 704.1 1154.5 712.2 1155.6 714.8C1156.7 717.4 1160.0 722.5 1161.1 725.9C1161.8 727.9 1163.7 741.9 1164.4 743.6C1165.1 745.3 1167.1 749.1 1167.7 749.1C1169.5 749.1 1174.8 739.2 1176.6 739.2C1177.9 739.2 1181.9 743.6 1183.2 743.6C1185.0 743.6 1190.3 740.9 1192.1 739.2C1193.0 738.3 1195.6 722.0 1196.5 719.2C1197.6 715.7 1200.9 708.6 1202.0 706.0C1203.4 702.8 1207.3 694.5 1208.7 690.5C1209.3 688.5 1211.3 680.8 1212.0 677.2C1212.7 673.1 1215.0 644.0 1215.8 644.0C1216.5 644.0 1218.9 659.6 1219.7 663.9C1220.4 667.6 1222.4 683.0 1223.0 683.8C1223.7 684.6 1225.7 686.0 1226.4 686.0C1227.7 686.0 1231.7 672.3 1233.0 668.4C1234.3 664.4 1238.3 655.4 1239.7 646.2C1240.1 643.2 1241.4 594.7 1241.8 582.1C1242.2 571.7 1243.2 536.0 1243.6 531.1C1244.3 521.9 1246.2 503.0 1246.9 503.0C1247.7 503.0 1250.0 516.8 1250.7 520.9C1251.5 524.9 1253.8 537.1 1254.6 543.8C1255.1 548.3 1256.6 573.4 1257.1 582.1C1257.6 590.9 1259.2 625.1 1259.7 633.2C1260.2 641.2 1261.7 664.6 1262.2 666.4C1262.7 668.1 1264.3 671.5 1264.8 671.5C1265.5 671.5 1267.8 662.8 1268.6 658.7C1269.2 655.4 1271.1 627.9 1271.7 620.4C1272.2 614.2 1273.7 589.8 1274.2 589.8C1274.9 589.8 1276.9 635.9 1277.5 645.9C1278.4 659.1 1281.0 704.7 1281.9 704.7C1283.3 704.7 1287.6 671.4 1289.0 663.8C1290.1 658.4 1293.1 647.2 1294.1 638.3C1294.7 633.8 1296.2 594.1 1296.7 582.1C1297.2 570.2 1298.7 523.5 1299.2 518.3C1299.9 511.6 1301.9 497.9 1302.6 497.9C1303.4 497.9 1306.0 513.7 1306.9 518.3C1307.9 523.7 1311.0 544.0 1312.0 548.9C1313.0 553.8 1316.1 565.6 1317.1 569.4C1318.2 573.5 1321.6 588.5 1322.7 588.5C1323.1 588.5 1324.4 564.4 1324.8 556.6C1325.3 546.9 1326.8 501.8 1327.3 492.8C1327.8 485.4 1329.0 463.8 1329.4 463.8C1330.2 463.8 1332.4 480.5 1333.2 483.7C1334.1 487.4 1336.7 495.5 1337.6 499.2C1338.5 502.8 1341.2 516.9 1342.0 521.3C1342.9 525.7 1345.6 539.9 1346.5 543.4C1347.3 546.6 1349.7 556.7 1350.5 556.7C1351.0 556.7 1352.6 511.5 1353.1 499.2C1353.6 488.9 1354.9 446.8 1355.3 443.8C1356.0 439.4 1358.0 431.7 1358.6 431.7C1359.3 431.7 1361.3 451.0 1362.0 454.9C1362.8 460.1 1365.5 473.1 1366.4 477.0C1367.3 481.0 1369.9 490.8 1370.8 494.7C1371.7 498.7 1374.4 513.1 1375.2 516.9C1375.8 519.1 1377.4 526.8 1377.9 526.8C1378.5 526.8 1380.2 489.8 1380.8 477.0C1381.2 467.2 1382.5 414.8 1383.0 410.6C1383.6 404.3 1385.6 392.9 1386.3 392.9C1387.0 392.9 1389.0 401.5 1389.6 404.0C1390.7 408.2 1394.0 423.7 1395.2 428.4C1396.3 433.0 1399.6 446.4 1400.7 450.5C1401.8 454.5 1405.1 469.3 1406.2 469.3C1406.7 469.3 1408.0 422.0 1408.4 410.6C1408.9 399.3 1410.2 359.6 1410.6 355.3C1411.4 348.0 1413.7 334.3 1414.4 334.3C1415.2 334.3 1417.6 343.7 1418.4 346.5C1419.3 349.5 1421.9 361.5 1422.8 364.2C1423.9 367.5 1427.2 374.8 1428.3 377.4C1429.5 380.3 1433.1 391.8 1434.3 391.8C1434.9 391.8 1436.6 372.9 1437.2 366.4C1437.6 361.4 1439.0 338.0 1439.4 333.2C1440.1 325.9 1442.1 305.5 1442.7 305.5C1443.7 305.5 1446.7 314.9 1447.7 317.3C1448.7 319.7 1451.7 325.8 1452.8 329.4C1453.5 332.2 1455.8 350.4 1456.5 354.9C1457.2 358.9 1459.2 370.9 1459.8 372.6C1460.4 373.9 1462.0 377.0 1462.5 377.0C1463.1 377.0 1464.8 343.8 1465.4 332.8C1465.8 324.2 1467.1 281.0 1467.6 277.4C1468.1 273.3 1469.7 265.3 1470.2 265.3C1471.0 265.3 1473.4 278.6 1474.2 281.9C1475.1 285.5 1477.8 295.5 1478.6 299.6C1479.5 303.7 1482.2 318.8 1483.1 323.9C1484.0 329.0 1486.6 346.7 1487.5 350.5C1488.2 353.3 1490.1 361.5 1490.8 361.5C1491.3 361.5 1492.6 340.4 1493.0 332.8C1493.5 325.2 1494.8 282.4 1495.2 277.4C1495.8 271.5 1497.4 258.6 1497.9 258.6C1498.7 258.6 1501.1 271.6 1501.9 275.2C1502.8 279.3 1505.4 292.9 1506.3 297.4C1507.2 301.8 1509.8 315.1 1510.7 319.5C1511.6 323.9 1514.3 337.9 1515.2 341.6C1515.8 344.4 1517.8 353.8 1518.5 353.8C1518.9 353.8 1520.2 329.8 1520.7 321.7C1521.1 313.6 1522.5 270.9 1522.9 266.4C1523.5 260.5 1525.2 248.7 1525.8 248.7C1526.5 248.7 1528.8 259.0 1529.5 262.0C1530.4 265.4 1533.1 278.1 1534.0 281.9C1535.1 286.6 1538.4 299.3 1539.5 304.0C1540.4 307.8 1543.0 321.2 1543.9 323.9C1544.4 325.3 1545.7 329.4 1546.1 329.4C1546.7 329.4 1548.3 313.1 1548.8 306.2C1549.2 300.5 1550.6 261.9 1551.0 255.3C1551.6 246.7 1553.3 224.3 1553.9 224.3C1554.5 224.3 1556.5 231.3 1557.2 233.2C1558.3 236.4 1561.6 247.0 1562.7 250.9C1563.8 254.8 1567.2 267.9 1568.3 273.0C1569.1 277.2 1571.8 292.6 1572.7 297.4C1573.4 301.0 1575.3 313.2 1576.0 315.1C1576.6 316.7 1578.3 319.1 1578.9 320.6C1579.9 323.1 1582.8 337.6 1583.8 341.6C1584.6 345.3 1587.3 355.7 1588.2 359.3C1589.5 364.8 1593.5 381.6 1594.8 388.1C1595.7 392.4 1598.4 407.6 1599.2 412.4C1600.1 417.3 1602.8 433.3 1603.7 436.8C1604.6 440.2 1607.2 446.9 1608.1 450.1C1610.3 457.9 1616.9 491.8 1619.1 501.3C1621.2 510.0 1627.3 534.7 1629.3 542.1C1630.9 547.7 1635.5 562.6 1637.0 567.6C1637.6 569.7 1639.5 575.7 1640.1 577.9C1641.3 582.3 1645.2 598.0 1646.5 601.7C1647.8 605.5 1651.8 614.0 1653.1 617.2C1654.3 620.2 1658.1 632.7 1659.3 632.7C1659.8 632.7 1661.4 590.2 1662.0 579.6C1662.4 570.7 1663.7 540.4 1664.2 535.3C1664.7 529.2 1666.3 514.3 1666.8 514.3C1667.6 514.3 1670.0 520.3 1670.8 522.0C1672.1 525.0 1676.1 536.2 1677.5 539.8C1678.8 543.3 1682.8 554.8 1684.1 557.5C1685.2 559.6 1688.5 566.3 1689.6 566.3C1690.5 566.3 1693.2 565.2 1694.0 565.2C1694.9 565.2 1697.6 571.2 1698.5 572.9C1699.6 575.2 1702.9 583.4 1704.0 586.2C1705.1 589.1 1708.4 599.3 1709.5 601.7C1710.3 603.3 1712.5 608.4 1713.3 608.4C1713.7 608.4 1714.7 577.6 1715.1 568.5C1715.5 557.2 1716.8 516.9 1717.3 502.1C1717.6 492.5 1718.4 452.8 1718.7 448.5C1719.4 438.9 1721.3 421.4 1721.9 421.4C1722.6 421.4 1724.6 428.0 1725.3 429.8C1726.2 432.2 1729.0 440.5 1730.0 442.9C1730.9 445.3 1733.7 451.8 1734.6 454.1C1735.4 456.0 1737.6 462.7 1738.4 463.5C1738.9 464.1 1740.6 465.4 1741.2 465.4C1741.8 465.4 1743.4 424.5 1744.0 411.1C1744.4 402.1 1745.5 361.8 1745.9 354.9C1746.6 341.0 1748.9 308.1 1749.6 308.1C1750.4 308.1 1752.6 313.8 1753.4 315.6C1754.3 317.7 1757.1 326.1 1758.0 328.7C1759.0 331.3 1761.8 339.3 1762.7 341.8C1763.5 343.8 1765.7 350.1 1766.5 351.1C1767.0 351.9 1768.7 354.0 1769.3 354.0C1769.7 354.0 1770.8 333.1 1771.2 326.8C1771.5 320.5 1772.6 297.5 1773.0 289.4C1773.3 283.0 1774.2 258.5 1774.5 254.7C1775.0 247.0 1776.8 230.0 1777.4 230.0C1778.0 230.0 1779.8 234.6 1780.4 236.0C1781.3 237.9 1783.8 245.4 1784.7 247.9C1785.4 249.8 1787.4 255.9 1788.1 258.1C1788.8 260.3 1790.8 267.6 1791.5 270.0C1792.2 272.4 1794.2 280.0 1794.9 281.9C1795.4 283.3 1796.9 287.9 1797.5 287.9C1797.8 287.9 1798.8 268.9 1799.2 263.2C1799.7 254.7 1801.2 218.2 1801.7 212.1C1802.5 203.2 1804.7 181.5 1805.5 181.5C1806.1 181.5 1807.9 188.2 1808.5 190.0C1809.4 192.5 1811.9 200.7 1812.8 203.6C1813.6 206.5 1816.2 215.9 1817.0 218.9C1817.9 222.0 1820.4 231.0 1821.3 234.3C1822.0 236.8 1824.0 246.1 1824.7 247.9C1825.2 249.2 1826.7 253.0 1827.2 253.0C1827.6 253.0 1828.9 235.2 1829.3 229.2C1829.6 224.1 1830.6 196.8 1831.0 195.1C1831.5 192.6 1833.0 188.3 1833.5 188.3C1834.3 188.3 1836.7 196.1 1837.5 198.5C1838.3 201.1 1840.9 210.9 1841.7 213.8C1842.6 216.7 1845.1 224.7 1846.0 227.4C1846.8 230.2 1849.4 239.0 1850.2 241.1C1850.9 242.7 1852.9 247.9 1853.6 247.9C1854.0 247.9 1855.0 234.4 1855.3 229.2C1855.7 223.9 1856.7 195.1 1857.0 186.6C1857.4 178.1 1858.4 146.6 1858.7 144.0C1859.3 139.7 1861.0 132.1 1861.6 132.1C1862.2 132.1 1864.1 137.5 1864.7 138.9C1865.4 140.5 1867.4 145.4 1868.1 147.4C1868.5 148.8 1869.9 154.3 1870.3 156.0" fill="none" stroke="#1A6FDF" stroke-width="3.4" stroke-linejoin="round" stroke-linecap="butt" />
<path d="M1034.3 767.9C1035.3 762.2 1038.4 743.3 1039.4 739.2C1040.5 734.6 1043.8 728.4 1044.9 721.5C1045.4 718.7 1046.7 677.3 1047.1 672.8C1047.8 666.0 1049.8 651.8 1050.5 651.8C1051.1 651.8 1053.1 696.0 1053.8 706.0C1054.2 712.6 1055.5 737.0 1056.0 737.0C1056.9 737.0 1059.5 735.8 1060.4 735.8C1060.9 735.8 1062.5 748.1 1063.1 750.2C1063.6 752.5 1065.4 759.1 1065.9 759.1C1066.8 759.1 1069.5 744.8 1070.4 739.2C1071.0 735.0 1073.0 711.6 1073.7 706.0C1074.4 699.6 1076.7 678.3 1077.5 678.3C1078.0 678.3 1079.7 728.7 1080.3 734.7C1081.0 741.7 1083.0 758.0 1083.6 758.0C1084.5 758.0 1087.2 751.0 1088.1 748.0C1088.7 745.8 1090.7 730.5 1091.4 728.1C1092.3 724.9 1094.9 718.1 1095.8 717.0C1096.9 715.7 1100.2 714.6 1101.3 712.6C1101.8 711.8 1103.1 678.1 1103.6 672.8C1104.0 667.5 1105.3 652.9 1105.8 652.9C1106.2 652.9 1107.5 686.3 1108.0 694.9C1108.4 703.5 1109.8 736.6 1110.2 739.2C1110.7 742.3 1112.3 748.0 1112.8 748.0C1113.9 748.0 1116.9 741.6 1117.9 739.2C1118.8 737.0 1121.5 723.4 1122.4 721.5C1123.3 719.5 1125.9 716.3 1126.8 714.8C1127.5 713.7 1129.4 710.9 1130.1 708.2C1130.5 706.7 1131.5 665.9 1131.9 661.7C1132.3 656.4 1133.6 645.1 1134.1 645.1C1134.6 645.1 1136.2 664.9 1136.8 672.8C1137.2 679.3 1138.5 723.2 1139.0 728.1C1139.6 735.4 1141.6 750.2 1142.3 750.2C1143.8 750.2 1148.5 744.7 1150.0 744.7C1151.1 744.7 1154.5 756.9 1155.6 759.1C1156.7 761.3 1160.0 765.3 1161.1 767.9C1161.7 769.3 1163.4 778.4 1164.0 779.0C1164.7 779.8 1167.0 781.2 1167.7 781.2C1169.7 781.2 1175.7 774.6 1177.7 774.6C1178.9 774.6 1182.6 781.2 1183.9 781.2C1185.3 781.2 1189.6 773.4 1191.0 770.1C1191.9 768.1 1194.5 756.0 1195.4 752.4C1196.3 748.9 1198.9 737.9 1199.8 734.7C1200.9 730.8 1204.2 720.0 1205.3 717.0C1206.7 713.4 1210.7 707.5 1212.0 701.5C1212.4 699.6 1213.8 675.2 1214.2 672.8C1214.6 670.3 1216.0 665.0 1216.4 665.0C1217.1 665.0 1219.1 680.9 1219.7 683.8C1220.6 687.7 1223.3 698.0 1224.2 699.3C1225.0 700.7 1227.7 701.9 1228.6 703.8C1229.0 704.7 1230.4 731.9 1230.8 734.7C1231.5 739.0 1233.5 748.0 1234.1 748.0C1235.1 748.0 1238.2 743.5 1239.2 740.4C1239.8 738.9 1241.3 702.4 1241.8 697.0C1242.4 690.6 1244.3 674.0 1244.9 674.0C1245.5 674.0 1247.5 715.8 1248.2 722.5C1249.1 731.8 1251.9 757.0 1252.8 757.0C1253.6 757.0 1256.3 741.1 1257.1 735.3C1257.9 730.2 1260.2 703.1 1261.0 697.0C1262.0 688.9 1265.0 673.8 1266.1 663.8C1266.8 656.3 1269.1 606.1 1269.9 594.9C1270.7 583.7 1273.0 547.6 1273.7 547.6C1274.5 547.6 1276.8 575.8 1277.5 582.1C1278.6 590.5 1281.6 613.2 1282.7 620.4C1283.9 629.4 1287.8 662.5 1289.0 662.5C1290.1 662.5 1293.1 653.7 1294.1 648.5C1294.7 645.9 1296.2 617.6 1296.7 607.6C1297.2 597.7 1298.7 551.4 1299.2 543.8C1299.9 533.9 1301.9 509.4 1302.6 509.4C1303.4 509.4 1306.0 536.7 1306.9 543.8C1307.9 552.2 1311.0 578.3 1312.0 587.2C1313.0 596.2 1316.1 627.0 1317.1 633.2C1318.1 639.3 1321.2 656.2 1322.2 656.2C1323.0 656.2 1325.3 607.2 1326.0 594.9C1326.7 584.2 1328.7 541.3 1329.4 541.3C1330.2 541.3 1332.8 562.6 1333.7 569.4C1335.0 579.3 1338.8 624.0 1340.1 633.2C1341.2 641.3 1344.6 665.1 1345.7 665.1C1346.9 665.1 1350.4 658.4 1351.6 653.6C1352.1 651.5 1353.6 594.1 1354.1 582.1C1354.7 570.2 1356.2 536.6 1356.7 531.1C1357.2 525.5 1358.7 511.9 1359.2 511.9C1360.0 511.9 1362.3 538.4 1363.1 543.8C1364.1 551.0 1367.2 568.6 1368.2 574.5C1369.2 580.3 1372.3 597.5 1373.3 602.5C1374.4 608.1 1377.8 628.1 1378.9 628.1C1379.6 628.1 1381.6 570.3 1382.2 556.6C1382.7 546.0 1384.3 511.9 1384.8 505.5C1385.3 499.2 1386.8 482.6 1387.3 482.6C1388.1 482.6 1390.4 501.3 1391.2 505.5C1392.2 511.1 1395.2 526.2 1396.3 531.1C1397.3 535.9 1400.3 550.0 1401.4 554.0C1402.3 557.7 1405.0 570.6 1406.0 570.6C1406.6 570.6 1408.4 534.4 1409.0 518.3C1409.4 509.9 1410.3 448.4 1410.6 443.8C1411.4 433.3 1413.7 416.2 1414.4 416.2C1415.4 416.2 1418.5 429.1 1419.5 432.8C1420.6 436.7 1423.9 448.3 1425.0 454.9C1425.7 458.8 1427.7 482.4 1428.3 488.1C1429.2 495.7 1431.9 516.1 1432.8 521.3C1433.2 523.9 1434.5 532.4 1435.0 532.4C1435.7 532.4 1437.6 507.8 1438.3 499.2C1438.7 493.3 1440.1 464.0 1440.5 459.3C1441.0 454.7 1442.3 442.7 1442.7 442.7C1443.4 442.7 1445.4 455.1 1446.0 459.3C1446.9 464.9 1449.6 490.8 1450.5 499.2C1451.4 507.5 1454.0 537.4 1454.9 543.4C1455.3 546.3 1456.6 552.1 1457.0 554.9C1457.8 559.9 1460.1 584.2 1460.8 588.1C1461.3 590.1 1462.5 595.7 1462.9 595.7C1463.5 595.7 1465.3 556.1 1466.0 542.1C1466.4 532.8 1467.6 483.8 1468.0 478.3C1468.5 472.2 1469.8 459.1 1470.3 459.1C1471.0 459.1 1472.9 474.0 1473.6 478.3C1474.6 484.9 1477.7 508.2 1478.7 516.6C1479.7 524.9 1482.8 553.9 1483.8 562.5C1484.8 571.2 1487.9 599.8 1488.9 603.4C1489.3 604.8 1490.6 608.5 1491.0 608.5C1491.6 608.5 1493.4 557.1 1494.0 542.1C1494.4 532.2 1495.7 490.4 1496.1 485.9C1496.5 481.0 1497.9 470.6 1498.4 470.6C1499.0 470.6 1501.0 486.6 1501.7 491.1C1502.7 497.9 1505.8 521.7 1506.8 529.4C1507.8 537.0 1510.9 561.8 1511.9 567.6C1512.7 572.0 1515.0 583.4 1515.7 585.5C1516.2 586.9 1517.8 590.6 1518.3 590.6C1518.9 590.6 1520.7 554.9 1521.3 542.1C1521.9 531.4 1523.4 473.9 1523.9 465.5C1524.4 457.2 1526.0 436.9 1526.5 436.9C1527.1 436.9 1529.1 449.5 1529.8 452.8C1530.8 457.7 1533.9 472.2 1534.9 478.3C1535.9 484.4 1539.0 508.3 1540.0 516.6C1540.8 522.8 1543.1 545.3 1543.8 549.8C1544.3 552.7 1545.9 561.3 1546.4 561.3C1546.9 561.3 1548.4 537.9 1548.9 529.4C1549.4 520.9 1551.0 475.9 1551.5 465.5C1552.0 455.8 1553.4 424.6 1553.9 424.6C1554.9 424.6 1558.1 446.2 1559.1 452.8C1560.2 459.1 1563.2 482.7 1564.2 491.1C1565.3 499.4 1568.3 528.4 1569.3 537.0C1570.1 543.5 1572.4 563.1 1573.2 567.6C1573.9 572.2 1576.2 582.5 1577.0 585.5C1577.8 588.5 1580.1 595.0 1580.8 598.3C1581.9 602.7 1584.9 624.8 1585.9 631.5C1587.0 638.1 1590.0 657.8 1591.0 664.7C1592.1 671.5 1595.1 693.8 1596.2 700.4C1596.9 705.3 1599.2 719.8 1600.0 723.4C1600.6 726.5 1602.6 736.1 1603.3 736.1C1604.2 736.1 1606.8 728.5 1607.6 728.5C1608.7 728.5 1611.7 729.8 1612.8 729.8C1613.8 729.8 1616.8 727.0 1617.9 725.9C1618.9 724.9 1621.9 720.0 1623.0 718.3C1624.0 716.5 1627.0 709.1 1628.1 708.1C1628.8 707.3 1631.1 705.7 1631.9 705.5C1633.5 705.1 1638.4 704.2 1640.1 704.2C1640.1 704.2 1640.1 704.6 1640.1 704.6C1640.7 704.6 1642.5 702.4 1643.2 701.3C1643.8 700.1 1645.8 688.1 1646.5 685.8C1647.1 683.5 1649.1 677.7 1649.8 677.0C1650.5 676.2 1652.4 674.7 1653.1 674.7C1653.9 674.7 1656.3 678.0 1657.1 679.2C1657.7 680.1 1659.6 685.8 1660.2 685.8C1660.5 685.8 1661.6 644.4 1662.0 634.9C1662.4 623.0 1663.7 583.8 1664.2 579.6C1664.7 574.5 1666.3 564.1 1666.8 564.1C1667.6 564.1 1670.0 574.5 1670.8 577.4C1671.9 581.4 1675.2 595.1 1676.3 599.5C1677.2 603.0 1679.9 613.9 1680.8 617.2C1681.7 620.5 1684.3 630.6 1685.2 632.7C1686.1 634.8 1688.7 640.4 1689.6 640.4C1690.5 640.4 1693.2 632.7 1694.0 632.7C1694.7 632.7 1696.7 641.3 1697.4 643.8C1698.3 647.0 1700.9 658.2 1701.8 661.5C1702.7 664.8 1705.3 675.0 1706.2 677.0C1706.8 678.1 1708.3 681.4 1708.9 681.4C1709.7 681.4 1712.1 677.5 1712.9 674.7C1713.2 673.5 1714.3 644.0 1714.6 634.9C1715.1 623.6 1716.4 580.6 1716.8 568.5C1717.4 554.0 1719.0 508.2 1719.5 502.1C1720.1 495.3 1721.9 480.3 1722.5 480.3C1723.2 480.3 1725.5 491.5 1726.2 493.4C1727.1 495.7 1729.7 499.8 1730.6 502.1C1731.9 505.7 1735.9 525.5 1737.2 530.9C1738.0 534.1 1740.4 546.4 1741.2 546.4C1741.9 546.4 1744.2 515.8 1744.9 500.0C1745.3 492.2 1746.4 418.4 1746.8 411.1C1747.4 400.1 1749.1 378.3 1749.6 378.3C1750.4 378.3 1752.6 386.2 1753.4 388.6C1754.3 391.6 1757.1 403.2 1758.0 407.3C1759.0 411.4 1761.8 424.8 1762.7 429.8C1763.5 433.8 1765.7 449.1 1766.5 452.2C1767.0 454.6 1768.7 461.6 1769.3 461.6C1769.7 461.6 1771.1 421.3 1771.5 411.1C1772.0 399.9 1773.5 360.8 1774.0 354.9C1774.6 347.2 1776.5 329.6 1777.1 329.6C1777.8 329.6 1779.8 339.0 1780.5 341.8C1781.4 345.6 1784.3 359.6 1785.2 364.2C1786.1 368.9 1788.9 383.4 1789.9 388.6C1790.6 392.8 1792.9 407.0 1793.6 411.1C1794.3 414.7 1796.3 427.9 1797.0 427.9C1797.4 427.9 1798.8 400.2 1799.2 392.3C1799.8 382.4 1801.5 343.9 1802.0 336.2C1802.8 325.9 1805.0 297.8 1805.8 297.8C1806.5 297.8 1808.8 308.6 1809.5 311.8C1810.5 315.9 1813.3 331.4 1814.2 336.2C1815.3 341.9 1818.7 359.0 1819.8 364.2C1820.8 368.6 1823.6 382.1 1824.5 384.9C1825.3 387.1 1827.5 393.3 1828.2 393.3C1828.6 393.3 1829.8 361.0 1830.1 354.9C1830.8 344.6 1832.7 313.7 1833.3 313.7C1834.2 313.7 1836.8 325.3 1837.6 328.7C1838.5 332.3 1841.4 345.4 1842.3 349.3C1843.2 353.2 1846.0 364.0 1847.0 368.0C1847.7 371.2 1850.0 383.2 1850.7 384.9C1851.2 385.9 1852.7 388.6 1853.2 388.6C1853.6 388.6 1855.0 363.4 1855.4 354.9C1855.8 347.8 1856.9 319.3 1857.3 308.1C1857.6 299.4 1858.4 256.7 1858.7 254.7C1859.3 250.6 1861.0 244.5 1861.6 244.5C1862.2 244.5 1864.1 249.6 1864.7 251.3C1865.4 253.1 1867.4 260.3 1868.1 263.2C1868.5 265.0 1869.9 272.0 1870.3 274.3" fill="none" stroke="#37AD6B" stroke-width="3.4" stroke-linejoin="round" stroke-linecap="butt" />
</g>
<g font-size="40">
<text x="136" y="944.2" text-anchor="end" font-size="42" textLength="39.2" lengthAdjust="spacingAndGlyphs">10</text>
<text x="136" y="846.2" text-anchor="end" font-size="42" textLength="39.2" lengthAdjust="spacingAndGlyphs">20</text>
<text x="136" y="748.2" text-anchor="end" font-size="42" textLength="39.2" lengthAdjust="spacingAndGlyphs">30</text>
<text x="136" y="650.2" text-anchor="end" font-size="42" textLength="39.2" lengthAdjust="spacingAndGlyphs">40</text>
<text x="136" y="552.2" text-anchor="end" font-size="42" textLength="39.2" lengthAdjust="spacingAndGlyphs">50</text>
<text x="136" y="454.2" text-anchor="end" font-size="42" textLength="39.2" lengthAdjust="spacingAndGlyphs">60</text>
<text x="136" y="356.2" text-anchor="end" font-size="42" textLength="39.2" lengthAdjust="spacingAndGlyphs">70</text>
<text x="136" y="258.2" text-anchor="end" font-size="42" textLength="39.2" lengthAdjust="spacingAndGlyphs">80</text>
<text x="136" y="160.2" text-anchor="end" font-size="42" textLength="39.2" lengthAdjust="spacingAndGlyphs">90</text>
<text x="167.5" y="992" text-anchor="middle" font-size="42" textLength="19.4" lengthAdjust="spacingAndGlyphs">0</text>
<text x="458.0" y="992" text-anchor="middle" font-size="42" textLength="58.2" lengthAdjust="spacingAndGlyphs">500</text>
<text x="748.5" y="992" text-anchor="middle" font-size="42" textLength="77.6" lengthAdjust="spacingAndGlyphs">1000</text>
<text x="993.8" y="992" text-anchor="middle" font-size="42" textLength="77.6" lengthAdjust="spacingAndGlyphs">1440</text>
<text x="1102.6" y="992" text-anchor="middle" font-size="42" textLength="77.6" lengthAdjust="spacingAndGlyphs">1500</text>
<text x="1684.0" y="992.6" text-anchor="middle" font-size="42" textLength="77.6" lengthAdjust="spacingAndGlyphs">2000</text>
<text x="1850.2" y="988.7" text-anchor="middle" font-size="42" textLength="77.6" lengthAdjust="spacingAndGlyphs">2160</text>
<text x="1051.4" y="1050.3" text-anchor="middle" letter-spacing="-0.22">Running time (h)</text>
<text id="ytitle" transform="translate(72,514.8) rotate(-90)" text-anchor="middle" letter-spacing="-0.1">Average temperature of hot water storage tank (°<tspan dx="-4">C)</tspan></text>
</g>
<rect x="186.5" y="120.5" width="210" height="202.5" fill="#fff" stroke="#000" stroke-width="1.25"/>
<path d="M192.2 148.5 H281.3" stroke="#515151" stroke-width="3.6" stroke-linecap="round"/>
<text x="291.3" y="161.7" font-size="41.5" textLength="100.6" lengthAdjust="spacingAndGlyphs">Θ=0.2</text>
<path d="M192.2 197.7 H281.3" stroke="#F14040" stroke-width="3.6" stroke-linecap="round"/>
<text x="291.3" y="210.9" font-size="41.5" textLength="100.6" lengthAdjust="spacingAndGlyphs">Θ=0.3</text>
<path d="M192.2 246.9 H281.3" stroke="#1A6FDF" stroke-width="3.6" stroke-linecap="round"/>
<text x="291.3" y="260.1" font-size="41.5" textLength="100.6" lengthAdjust="spacingAndGlyphs">Θ=0.4</text>
<path d="M192.2 296.1 H281.3" stroke="#37AD6B" stroke-width="3.6" stroke-linecap="round"/>
<text x="291.3" y="309.3" font-size="41.5" textLength="100.6" lengthAdjust="spacingAndGlyphs">Θ=0.5</text>
<rect x="182.9" y="409.1" width="70" height="118.3" fill="none" stroke="#9A0056" stroke-width="3.6"/>
<path d="M253 527.5 L304 570.5" stroke="#9A0056" stroke-width="3.5" fill="none"/>
<path d="M325.1 588.6 L297 574.8 L308.3 564.7 Z" fill="#9A0056"/>
<rect x="338.3" y="545.1" width="432.90000000000003" height="279.9" fill="#fff" stroke="none"/>
<g id="inset-curves">
<path d="M338.6 698.9C339.6 704.1 342.5 720.8 343.5 725.0C344.8 730.2 348.4 743.0 349.7 746.4C350.9 749.8 354.6 758.2 355.8 760.2C357.0 762.2 360.7 767.1 361.9 767.8C363.4 768.8 368.0 769.5 369.6 770.9C370.0 771.3 371.3 795.1 371.7 795.4C372.7 796.1 375.6 797.0 376.6 797.0C377.0 797.0 378.3 758.5 378.8 749.5C379.4 736.5 381.2 693.3 381.8 688.2C383.1 678.1 386.7 659.1 387.9 659.1C388.9 659.1 391.6 667.8 392.6 669.8C393.8 672.4 397.5 680.0 398.7 682.1C399.9 684.2 403.6 689.0 404.8 691.2C406.3 694.1 410.9 706.3 412.5 709.6C414.0 713.0 418.6 722.9 420.1 725.0C422.0 727.4 427.5 732.3 429.3 734.1C431.1 736.0 436.7 741.5 438.5 743.3C440.0 744.9 444.6 750.0 446.2 751.0C447.1 751.6 449.8 753.1 450.8 753.1C451.5 753.1 453.7 746.8 454.4 743.3C455.1 740.4 456.9 698.4 457.5 688.2C458.3 674.9 460.7 635.3 461.5 626.9C462.4 617.2 465.2 592.6 466.1 590.1C466.8 588.2 469.0 584.0 469.8 584.0C470.5 584.0 472.9 598.5 473.7 602.4C474.7 606.9 477.4 622.4 478.3 626.9C479.6 632.9 483.2 649.7 484.5 654.5C485.7 659.3 489.4 672.4 490.6 675.9C492.1 680.3 496.7 690.2 498.2 694.3C499.3 697.1 502.4 705.6 503.5 709.6C504.3 712.7 506.6 727.1 507.4 731.1C508.4 735.7 511.1 749.9 512.0 752.5C512.9 755.1 515.7 760.8 516.6 761.7C517.5 762.6 520.3 764.8 521.2 764.8C522.2 764.8 525.1 763.7 526.1 763.2C527.4 762.7 531.0 759.3 532.2 759.3C533.5 759.3 537.2 760.2 538.4 760.2C538.7 760.2 539.6 752.3 539.9 749.5C540.5 743.8 542.4 712.7 543.0 703.5C543.6 694.3 545.4 664.9 546.0 657.5C546.7 650.2 548.5 629.4 549.1 626.9C549.8 623.9 552.0 617.7 552.8 617.7C553.6 617.7 556.0 634.7 556.8 639.2C557.7 644.4 560.4 660.9 561.4 666.7C562.3 672.5 565.0 692.7 566.0 697.4C567.2 703.6 570.9 718.1 572.1 721.9C573.3 725.7 577.0 734.6 578.2 737.2C579.1 739.2 581.9 745.5 582.8 745.8C583.6 746.0 586.0 746.4 586.8 746.4C587.8 746.4 591.0 738.6 592.0 737.2C593.2 735.6 596.9 731.8 598.1 731.1C599.3 730.4 603.0 728.6 604.2 728.6C606.4 728.6 612.8 729.5 615.0 729.5C616.2 729.5 619.9 726.2 621.1 725.0C622.0 724.0 624.8 720.2 625.7 717.3C626.3 715.4 628.1 682.4 628.8 672.9C629.4 663.3 631.2 627.8 631.8 620.8C632.6 611.7 635.0 587.1 635.8 587.1C636.5 587.1 638.8 594.0 639.5 596.3C640.7 600.0 644.4 615.9 645.6 620.8C646.8 625.7 650.5 641.1 651.7 645.3C653.0 649.5 656.6 660.3 657.9 663.7C659.1 667.0 662.8 676.7 664.0 679.0C665.2 681.3 668.9 687.4 670.1 688.2C672.0 689.4 677.5 690.9 679.3 691.9C680.8 692.6 685.4 695.7 687.0 696.8C688.5 697.8 693.1 702.1 694.6 702.9C695.7 703.5 699.0 705.0 700.1 705.0C701.2 705.0 704.3 702.0 705.4 700.4C706.0 699.5 707.8 692.1 708.4 688.2C709.0 684.3 710.9 652.0 711.5 642.2C712.1 632.4 713.9 596.3 714.5 590.1C715.3 582.2 717.7 562.6 718.5 562.6C719.3 562.6 721.5 569.4 722.2 571.8C723.4 575.7 727.1 596.6 728.3 602.4C729.6 608.2 733.2 625.2 734.5 630.0C735.7 634.8 739.4 648.3 740.6 651.4C741.8 654.5 745.5 661.6 746.7 663.7C747.9 665.8 751.6 670.4 752.8 672.9C754.1 675.3 757.7 689.1 759.0 691.2C760.2 693.4 763.9 697.8 765.1 698.9C766.3 700.1 770.0 702.6 771.2 703.5" fill="none" stroke="#515151" stroke-width="3.2" stroke-linejoin="round" stroke-linecap="butt" />
<path d="M338.6 698.9C339.6 704.1 342.5 720.8 343.5 725.0C344.8 730.2 348.4 743.0 349.7 746.4C350.9 749.8 354.6 758.2 355.8 760.2C357.0 762.2 360.7 767.1 361.9 767.8C363.4 768.8 368.0 769.5 369.6 770.9C370.0 771.3 371.3 785.4 371.7 786.2C372.3 787.4 374.2 789.3 374.8 789.3C375.4 789.3 377.2 744.3 377.8 734.1C378.6 720.9 381.0 678.9 381.8 672.9C383.1 663.6 386.7 643.8 387.9 643.8C388.7 643.8 391.1 655.2 391.9 657.5C393.2 661.1 396.8 669.8 398.1 672.9C399.4 676.2 403.5 686.3 404.8 689.7C406.3 693.6 410.9 706.2 412.5 709.6C414.0 713.1 418.6 722.9 420.1 725.0C422.0 727.4 427.5 732.3 429.3 734.1C431.1 736.0 436.7 741.5 438.5 743.3C440.0 744.9 444.6 750.0 446.2 751.0C447.1 751.6 449.8 753.1 450.8 753.1C451.5 753.1 453.7 746.8 454.4 743.3C455.1 740.4 456.9 698.4 457.5 688.2C458.3 674.9 460.7 635.3 461.5 626.9C462.4 617.2 465.2 592.6 466.1 590.1C466.8 588.2 469.0 584.0 469.8 584.0C470.5 584.0 472.9 598.5 473.7 602.4C474.7 606.9 477.4 622.4 478.3 626.9C479.6 632.9 483.2 649.7 484.5 654.5C485.7 659.3 489.4 672.4 490.6 675.9C492.1 680.3 496.7 690.2 498.2 694.3C499.3 697.1 502.4 705.6 503.5 709.6C504.3 712.7 506.6 727.1 507.4 731.1C508.4 735.7 511.1 749.9 512.0 752.5C512.9 755.1 515.7 760.8 516.6 761.7C517.5 762.6 520.3 764.8 521.2 764.8C522.2 764.8 525.1 763.7 526.1 763.2C527.4 762.7 531.0 759.3 532.2 759.3C533.5 759.3 537.2 760.2 538.4 760.2C538.7 760.2 539.6 752.3 539.9 749.5C540.5 743.8 542.4 712.7 543.0 703.5C543.6 694.3 545.4 664.9 546.0 657.5C546.7 650.2 548.5 629.4 549.1 626.9C549.8 623.9 552.0 617.7 552.8 617.7C553.6 617.7 556.0 634.7 556.8 639.2C557.7 644.4 560.4 660.9 561.4 666.7C562.3 672.5 565.0 692.7 566.0 697.4C567.2 703.6 570.9 718.1 572.1 721.9C573.3 725.7 577.0 734.6 578.2 737.2C579.1 739.2 581.9 745.5 582.8 745.8C583.6 746.0 586.0 746.4 586.8 746.4C587.8 746.4 591.0 738.6 592.0 737.2C593.2 735.6 596.9 731.8 598.1 731.1C599.3 730.4 603.0 728.6 604.2 728.6C606.4 728.6 612.8 729.5 615.0 729.5C616.2 729.5 619.9 726.2 621.1 725.0C622.0 724.0 624.8 720.2 625.7 717.3C626.3 715.4 628.1 682.4 628.8 672.9C629.4 663.3 631.2 627.8 631.8 620.8C632.6 611.7 635.0 587.1 635.8 587.1C636.5 587.1 638.8 594.0 639.5 596.3C640.7 600.0 644.4 615.9 645.6 620.8C646.8 625.7 650.5 641.1 651.7 645.3C653.0 649.5 656.6 660.3 657.9 663.7C659.1 667.0 662.8 676.7 664.0 679.0C665.2 681.3 668.9 687.4 670.1 688.2C672.0 689.4 677.5 690.9 679.3 691.9C680.8 692.6 685.4 695.7 687.0 696.8C688.5 697.8 693.1 702.1 694.6 702.9C695.7 703.5 699.0 705.0 700.1 705.0C701.2 705.0 704.3 702.0 705.4 700.4C706.0 699.5 707.8 692.1 708.4 688.2C709.0 684.3 710.9 652.0 711.5 642.2C712.1 632.4 713.9 596.3 714.5 590.1C715.3 582.2 717.7 562.6 718.5 562.6C719.3 562.6 721.5 569.4 722.2 571.8C723.4 575.7 727.1 596.6 728.3 602.4C729.6 608.2 733.2 625.2 734.5 630.0C735.7 634.8 739.4 648.3 740.6 651.4C741.8 654.5 745.5 661.6 746.7 663.7C747.9 665.8 751.6 670.4 752.8 672.9C754.1 675.3 757.7 688.8 759.0 691.2C760.2 693.7 763.9 699.0 765.1 700.4C766.3 701.9 770.0 705.3 771.2 706.6" fill="none" stroke="#F14040" stroke-width="3.2" stroke-linejoin="round" stroke-linecap="butt" />
<path d="M338.6 698.9C339.6 704.1 342.5 720.8 343.5 725.0C344.8 730.2 348.4 743.0 349.7 746.4C350.9 749.8 354.6 758.2 355.8 760.2C357.0 762.2 360.7 767.1 361.9 767.8C363.4 768.8 368.0 769.6 369.6 770.9C370.0 771.3 371.3 781.1 371.7 781.6C372.2 782.2 373.7 783.2 374.2 783.2C374.9 783.2 377.1 730.2 377.8 718.8C378.6 706.5 381.0 669.5 381.8 663.7C383.1 654.7 386.7 634.6 387.9 634.6C388.7 634.6 391.1 645.8 391.9 648.4C393.2 652.3 396.8 663.1 398.1 666.7C399.5 671.1 403.9 684.1 405.4 688.2C407.1 692.8 412.0 706.5 413.7 710.2C415.2 713.7 419.8 723.5 421.4 725.6C423.2 728.0 428.7 732.9 430.5 734.8C432.4 736.6 437.9 742.1 439.7 744.0C441.3 745.5 445.9 750.7 447.4 751.6C448.3 752.2 451.1 753.8 452.0 753.8C452.7 753.8 454.9 747.4 455.7 744.0C456.3 741.0 458.1 699.0 458.7 688.8C459.5 675.6 461.9 636.0 462.7 627.5C463.6 617.8 466.4 593.2 467.3 590.8C468.0 588.8 470.2 584.6 471.0 584.6C471.8 584.6 474.2 599.1 475.0 603.0C475.9 607.6 478.6 623.0 479.6 627.5C480.8 633.5 484.5 650.3 485.7 655.1C486.9 659.9 490.6 673.0 491.8 676.5C493.3 680.9 497.9 690.9 499.5 694.9C500.5 697.7 503.6 706.2 504.7 710.2C505.5 713.3 507.9 727.7 508.7 731.7C509.6 736.3 512.3 750.6 513.3 753.1C514.2 755.7 516.9 761.4 517.9 762.3C518.8 763.2 521.5 765.4 522.5 765.4C523.4 765.4 526.4 764.3 527.4 763.9C528.6 763.3 532.3 759.9 533.5 759.9C534.7 759.9 538.4 760.8 539.6 760.8C539.9 760.8 540.8 752.9 541.1 750.1C541.8 744.4 543.6 713.3 544.2 704.1C544.8 694.9 546.7 665.5 547.3 658.2C547.9 650.8 549.7 630.0 550.3 627.5C551.1 624.5 553.3 618.3 554.0 618.3C554.8 618.3 557.2 635.3 558.0 639.8C558.9 645.0 561.7 661.5 562.6 667.4C563.5 673.1 566.3 693.3 567.2 698.0C568.4 704.2 572.1 718.7 573.3 722.5C574.5 726.3 578.2 735.2 579.4 737.8C580.4 739.8 583.1 746.1 584.0 746.4C584.8 746.6 587.2 747.0 588.0 747.0C589.1 747.0 592.2 739.2 593.2 737.8C594.4 736.2 598.1 732.4 599.4 731.7C600.6 731.0 604.3 729.2 605.5 729.2C607.6 729.2 614.1 730.2 616.2 730.2C617.4 730.2 621.1 726.9 622.3 725.6C623.2 724.6 626.0 720.8 626.9 717.9C627.5 716.0 629.4 683.1 630.0 673.5C630.6 663.9 632.4 628.4 633.0 621.4C633.8 612.3 636.2 587.7 637.0 587.7C637.8 587.7 640.0 594.7 640.7 596.9C641.9 600.6 645.6 616.5 646.8 621.4C648.1 626.3 651.7 641.7 653.0 645.9C654.2 650.1 657.9 661.0 659.1 664.3C660.3 667.6 664.0 677.3 665.2 679.6C666.4 681.9 670.1 688.0 671.4 688.8C673.2 690.0 678.7 691.6 680.5 692.5C682.1 693.2 686.7 696.3 688.2 697.4C689.7 698.5 694.3 702.7 695.9 703.5C697.0 704.1 700.3 705.6 701.4 705.6C702.4 705.6 705.5 702.6 706.6 701.0C707.2 700.1 709.0 692.7 709.6 688.8C710.3 684.9 712.1 652.6 712.7 642.8C713.3 633.1 715.2 596.9 715.8 590.8C716.6 582.8 719.0 563.2 719.8 563.2C720.5 563.2 722.7 570.0 723.4 572.4C724.7 576.4 728.3 597.2 729.6 603.0C730.8 608.8 734.5 625.8 735.7 630.6C736.9 635.4 740.6 648.9 741.8 652.0C743.0 655.2 746.7 662.2 747.9 664.3C749.2 666.4 752.8 671.0 754.1 673.5C755.3 675.9 759.0 688.9 760.2 691.9C761.2 694.2 764.1 700.4 765.1 702.0C766.3 703.9 770.0 708.1 771.2 709.6" fill="none" stroke="#1A6FDF" stroke-width="3.2" stroke-linejoin="round" stroke-linecap="butt" />
<path d="M338.6 698.9C339.6 704.1 342.5 720.8 343.5 725.0C344.8 730.2 348.4 743.0 349.7 746.4C350.9 749.8 354.6 758.2 355.8 760.2C357.0 762.2 360.7 767.1 361.9 767.8C363.4 768.8 368.0 769.7 369.6 770.9C370.2 771.4 372.0 780.1 372.6 780.1C373.2 780.1 375.1 767.3 375.7 761.7C376.3 756.1 378.1 714.5 378.8 703.5C379.4 692.5 381.2 656.6 381.8 651.4C382.9 642.6 386.0 623.9 387.0 623.9C387.8 623.9 390.2 633.4 391.0 636.1C392.2 640.3 395.9 656.0 397.1 660.6C398.7 666.4 403.3 683.4 404.8 688.2C406.3 693.0 410.9 706.1 412.5 709.6C414.0 713.2 418.6 722.9 420.1 725.0C422.0 727.4 427.5 732.3 429.3 734.1C431.1 736.0 436.7 741.5 438.5 743.3C440.0 744.9 444.6 750.0 446.2 751.0C447.1 751.6 449.8 753.1 450.8 753.1C451.5 753.1 453.7 746.8 454.4 743.3C455.1 740.4 456.9 698.4 457.5 688.2C458.3 674.9 460.7 635.3 461.5 626.9C462.4 617.2 465.2 592.6 466.1 590.1C466.8 588.2 469.0 584.0 469.8 584.0C470.5 584.0 472.9 598.5 473.7 602.4C474.7 606.9 477.4 622.4 478.3 626.9C479.6 632.9 483.2 649.7 484.5 654.5C485.7 659.3 489.4 672.4 490.6 675.9C492.1 680.3 496.7 690.2 498.2 694.3C499.3 697.1 502.4 705.6 503.5 709.6C504.3 712.7 506.6 727.1 507.4 731.1C508.4 735.7 511.1 749.9 512.0 752.5C512.9 755.1 515.7 760.8 516.6 761.7C517.5 762.6 520.3 764.8 521.2 764.8C522.2 764.8 525.1 763.7 526.1 763.2C527.4 762.7 531.0 759.3 532.2 759.3C533.5 759.3 537.2 760.2 538.4 760.2C538.7 760.2 539.6 752.3 539.9 749.5C540.5 743.8 542.4 712.7 543.0 703.5C543.6 694.3 545.4 664.9 546.0 657.5C546.7 650.2 548.5 629.4 549.1 626.9C549.8 623.9 552.0 617.7 552.8 617.7C553.6 617.7 556.0 634.7 556.8 639.2C557.7 644.4 560.4 660.9 561.4 666.7C562.3 672.5 565.0 692.7 566.0 697.4C567.2 703.6 570.9 718.1 572.1 721.9C573.3 725.7 577.0 734.6 578.2 737.2C579.1 739.2 581.9 745.5 582.8 745.8C583.6 746.0 586.0 746.4 586.8 746.4C587.8 746.4 591.0 738.6 592.0 737.2C593.2 735.6 596.9 731.8 598.1 731.1C599.3 730.4 603.0 728.6 604.2 728.6C606.4 728.6 612.8 729.5 615.0 729.5C616.2 729.5 619.9 726.2 621.1 725.0C622.0 724.0 624.8 720.2 625.7 717.3C626.3 715.4 628.1 682.4 628.8 672.9C629.4 663.3 631.2 627.8 631.8 620.8C632.6 611.7 635.0 587.1 635.8 587.1C636.5 587.1 638.8 594.0 639.5 596.3C640.7 600.0 644.4 615.9 645.6 620.8C646.8 625.7 650.5 641.1 651.7 645.3C653.0 649.5 656.6 660.3 657.9 663.7C659.1 667.0 662.8 676.7 664.0 679.0C665.2 681.3 668.9 687.4 670.1 688.2C672.0 689.4 677.5 690.9 679.3 691.9C680.8 692.6 685.4 695.7 687.0 696.8C688.5 697.8 693.1 702.1 694.6 702.9C695.7 703.5 699.0 705.0 700.1 705.0C701.2 705.0 704.3 702.0 705.4 700.4C706.0 699.5 707.8 692.1 708.4 688.2C709.0 684.3 710.9 652.0 711.5 642.2C712.1 632.4 713.9 596.3 714.5 590.1C715.3 582.2 717.7 562.6 718.5 562.6C719.3 562.6 721.5 569.4 722.2 571.8C723.4 575.7 727.1 596.6 728.3 602.4C729.6 608.2 733.2 625.2 734.5 630.0C735.7 634.8 739.4 648.3 740.6 651.4C741.8 654.5 745.5 661.6 746.7 663.7C747.9 665.8 751.6 670.4 752.8 672.9C754.1 675.3 757.7 689.2 759.0 691.2C759.9 692.8 762.7 696.8 763.6 696.8C764.5 696.8 767.2 694.3 768.2 694.3C768.8 694.3 770.6 696.8 771.2 697.4" fill="none" stroke="#37AD6B" stroke-width="3.2" stroke-linejoin="round" stroke-linecap="butt" />
</g>
<g stroke="#000" stroke-width="3.1" fill="none">
<path d="M338.3 543.3000000000001 V826.8"/><path d="M771.2 543.3000000000001 V826.8"/>
<path d="M338.3 825.0 V833.5"/>
<path d="M425.3 825.0 V841.5"/>
<path d="M511.4 825.0 V833.5"/>
<path d="M597.8 825.0 V841.5"/>
<path d="M683.9 825.0 V833.5"/>
<path d="M771.2 825.0 V841.5"/>
</g>
<g stroke="#000" stroke-width="3.6" fill="none">
<path d="M338.3 545.1 H771.2"/><path d="M338.3 825.0 H771.2"/>
<path d="M320.3 722.5 H338.3"/><path d="M328.8 595.7 H338.3"/>
</g>
<g font-size="28">
<text x="307.5" y="730.2" text-anchor="end">55</text>
<text x="425.3" y="876" text-anchor="middle">50</text>
<text x="597.8" y="876" text-anchor="middle">100</text>
<text x="771.2" y="876" text-anchor="middle">150</text>
</g>
</svg></body></html>
